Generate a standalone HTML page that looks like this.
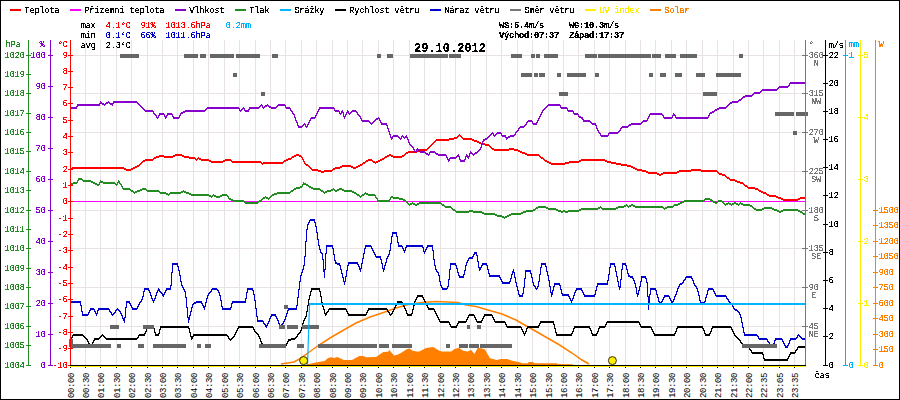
<!DOCTYPE html><html><head><meta charset="utf-8"><style>
html,body{margin:0;padding:0;background:#fff;width:900px;height:400px;overflow:hidden}
svg{display:block}
text{font-family:"Liberation Mono",monospace;font-size:9px;letter-spacing:-0.4px;filter:url(#bin)}
.rot{filter:none}
.lg{font-weight:normal}
.b{font-weight:bold}
</style></head><body>
<svg width="900" height="400" viewBox="0 0 900 400">
<defs><filter id="bin" x="-10%" y="-50%" width="120%" height="200%"><feComponentTransfer><feFuncA type="discrete" tableValues="0 0 0 1 1 1 1 1"/></feComponentTransfer></filter><filter id="bin2" x="-10%" y="-50%" width="120%" height="200%"><feComponentTransfer><feFuncA type="discrete" tableValues="0 0 1 1 1 1 1 1"/></feComponentTransfer></filter></defs>
<rect x="0" y="0" width="900" height="400" fill="#fff"/>
<path d="M85.5 40V365M100.5 40V365M116.5 40V365M131.5 40V365M147.5 40V365M162.5 40V365M177.5 40V365M193.5 40V365M208.5 40V365M224.5 40V365M239.5 40V365M255.5 40V365M270.5 40V365M285.5 40V365M301.5 40V365M316.5 40V365M332.5 40V365M347.5 40V365M362.5 40V365M378.5 40V365M393.5 40V365M409.5 40V365M424.5 40V365M440.5 40V365M455.5 40V365M470.5 40V365M486.5 40V365M501.5 40V365M517.5 40V365M532.5 40V365M548.5 40V365M563.5 40V365M578.5 40V365M594.5 40V365M609.5 40V365M625.5 40V365M640.5 40V365M655.5 40V365M671.5 40V365M686.5 40V365M702.5 40V365M717.5 40V365M733.5 40V365M748.5 40V365M763.5 40V365M779.5 40V365M794.5 40V365M70 55.5H805M70 93.5H805M70 132.5H805M70 171.5H805M70 210.5H805M70 248.5H805M70 287.5H805M70 326.5H805" stroke="#e8e2e2" stroke-width="1" fill="none" shape-rendering="crispEdges"/>
<polygon points="305,365 306.7,364.4 314.7,362.7 320,361.7 324.7,361 328,358 331.3,357.3 334,358 337.3,357 344,360 352,360 359.3,356 363.3,356 366,357.3 376,357 379.3,354.7 383.3,352 388,351.7 389.3,350 394,355.6 397.3,354.7 401.3,352.7 406.7,349.3 409.3,348.4 412.7,350.7 416.7,351.6 419.3,351.6 426,348 433.3,347 439.3,350.7 442,351.6 451.3,351.6 454,349.3 458.7,347.7 463.3,350.7 467.3,351.6 471.3,350 474.3,354 478,347.6 484.7,349.3 490,358.3 496.7,360 500.7,359 507.3,359 511.3,360.4 518,362 520.7,362.4 521.3,363.3 528,363.3 528.7,362 533.3,362 534,363.3 556.7,363.3 557.3,364 572.7,364.3 573,365" fill="#ff8000" stroke="none"/>
<polyline points="281,364 294,362 300,358.6 308,353 319,345 330,338 342,331 356,323 370,317 382,313 396,308 408,304.6 422,302.6 436,301.6 458,302.6 466,305 476,306.6 488,310 502,314 516,320 530,328 544,336 558,344 572,353 582,360 589,364" fill="none" stroke="#ff8000" stroke-width="1.5"/>
<path d="M70 201.5H805" stroke="#ff00ff" stroke-width="1" shape-rendering="crispEdges"/>
<path d="M78 178h4v1h-4zM78 179h5v1h-5zM77 180h2v1h-2zM82 180h9v1h-9zM100 180h1v1h-1zM118 180h1v1h-1zM77 181h1v1h-1zM83 181h10v1h-10zM100 181h3v1h-3zM118 181h2v1h-2zM73 182h5v1h-5zM91 182h4v1h-4zM99 182h16v1h-16zM117 182h3v1h-3zM303 182h1v1h-1zM71 183h6v1h-6zM93 183h4v1h-4zM99 183h1v1h-1zM103 183h13v1h-13zM117 183h1v1h-1zM119 183h2v1h-2zM303 183h3v1h-3zM70 184h3v1h-3zM95 184h5v1h-5zM115 184h3v1h-3zM120 184h2v1h-2zM302 184h6v1h-6zM70 185h1v1h-1zM97 185h2v1h-2zM116 185h1v1h-1zM121 185h1v1h-1zM302 185h1v1h-1zM306 185h3v1h-3zM121 186h2v1h-2zM300 186h3v1h-3zM308 186h3v1h-3zM122 187h1v1h-1zM296 187h6v1h-6zM309 187h4v1h-4zM122 188h8v1h-8zM142 188h4v1h-4zM294 188h6v1h-6zM311 188h9v1h-9zM333 188h1v1h-1zM339 188h3v1h-3zM123 189h8v1h-8zM140 189h7v1h-7zM293 189h3v1h-3zM313 189h8v1h-8zM331 189h4v1h-4zM337 189h7v1h-7zM130 190h3v1h-3zM137 190h5v1h-5zM146 190h13v1h-13zM183 190h1v1h-1zM291 190h3v1h-3zM320 190h3v1h-3zM327 190h6v1h-6zM334 190h5v1h-5zM342 190h10v1h-10zM131 191h3v1h-3zM135 191h5v1h-5zM147 191h13v1h-13zM181 191h5v1h-5zM290 191h3v1h-3zM321 191h3v1h-3zM325 191h6v1h-6zM335 191h2v1h-2zM344 191h10v1h-10zM133 192h4v1h-4zM159 192h7v1h-7zM170 192h13v1h-13zM184 192h5v1h-5zM277 192h14v1h-14zM323 192h4v1h-4zM352 192h4v1h-4zM365 192h1v1h-1zM134 193h1v1h-1zM160 193h8v1h-8zM169 193h12v1h-12zM186 193h5v1h-5zM274 193h16v1h-16zM324 193h1v1h-1zM354 193h3v1h-3zM364 193h4v1h-4zM166 194h4v1h-4zM189 194h20v1h-20zM213 194h1v1h-1zM222 194h5v1h-5zM272 194h5v1h-5zM356 194h3v1h-3zM362 194h3v1h-3zM366 194h9v1h-9zM168 195h1v1h-1zM191 195h20v1h-20zM212 195h4v1h-4zM220 195h8v1h-8zM271 195h3v1h-3zM357 195h3v1h-3zM361 195h3v1h-3zM368 195h8v1h-8zM209 196h4v1h-4zM214 196h8v1h-8zM227 196h2v1h-2zM265 196h1v1h-1zM270 196h2v1h-2zM359 196h3v1h-3zM375 196h1v1h-1zM391 196h2v1h-2zM211 197h1v1h-1zM216 197h4v1h-4zM228 197h1v1h-1zM263 197h5v1h-5zM269 197h2v1h-2zM360 197h1v1h-1zM375 197h2v1h-2zM390 197h9v1h-9zM228 198h3v1h-3zM262 198h3v1h-3zM266 198h4v1h-4zM376 198h2v1h-2zM390 198h1v1h-1zM393 198h10v1h-10zM705 198h5v1h-5zM229 199h4v1h-4zM261 199h2v1h-2zM268 199h1v1h-1zM377 199h1v1h-1zM389 199h2v1h-2zM399 199h6v1h-6zM704 199h8v1h-8zM231 200h13v1h-13zM259 200h3v1h-3zM377 200h13v1h-13zM403 200h3v1h-3zM684 200h21v1h-21zM710 200h3v1h-3zM718 200h4v1h-4zM233 201h12v1h-12zM258 201h3v1h-3zM378 201h11v1h-11zM405 201h2v1h-2zM682 201h22v1h-22zM712 201h3v1h-3zM717 201h6v1h-6zM244 202h15v1h-15zM406 202h2v1h-2zM412 202h1v1h-1zM419 202h22v1h-22zM680 202h4v1h-4zM713 202h5v1h-5zM722 202h2v1h-2zM728 202h1v1h-1zM734 202h2v1h-2zM740 202h1v1h-1zM245 203h13v1h-13zM407 203h2v1h-2zM410 203h5v1h-5zM417 203h25v1h-25zM678 203h4v1h-4zM715 203h2v1h-2zM723 203h2v1h-2zM726 203h5v1h-5zM732 203h6v1h-6zM739 203h4v1h-4zM408 204h4v1h-4zM413 204h6v1h-6zM441 204h3v1h-3zM626 204h1v1h-1zM631 204h2v1h-2zM674 204h6v1h-6zM724 204h4v1h-4zM729 204h5v1h-5zM736 204h4v1h-4zM741 204h9v1h-9zM409 205h1v1h-1zM415 205h2v1h-2zM442 205h3v1h-3zM624 205h4v1h-4zM629 205h6v1h-6zM673 205h5v1h-5zM725 205h1v1h-1zM731 205h1v1h-1zM738 205h1v1h-1zM743 205h9v1h-9zM444 206h7v1h-7zM538 206h8v1h-8zM600 206h1v1h-1zM618 206h8v1h-8zM627 206h4v1h-4zM633 206h30v1h-30zM667 206h7v1h-7zM750 206h3v1h-3zM445 207h7v1h-7zM536 207h12v1h-12zM598 207h4v1h-4zM616 207h8v1h-8zM628 207h1v1h-1zM635 207h29v1h-29zM665 207h8v1h-8zM752 207h2v1h-2zM764 207h8v1h-8zM451 208h2v1h-2zM535 208h3v1h-3zM546 208h10v1h-10zM581 208h19v1h-19zM601 208h17v1h-17zM663 208h4v1h-4zM753 208h3v1h-3zM762 208h12v1h-12zM452 209h3v1h-3zM533 209h3v1h-3zM548 209h10v1h-10zM579 209h19v1h-19zM602 209h14v1h-14zM664 209h1v1h-1zM754 209h10v1h-10zM772 209h5v1h-5zM783 209h15v1h-15zM453 210h3v1h-3zM469 210h4v1h-4zM526 210h9v1h-9zM556 210h5v1h-5zM563 210h2v1h-2zM568 210h13v1h-13zM756 210h6v1h-6zM774 210h5v1h-5zM781 210h19v1h-19zM455 211h27v1h-27zM523 211h10v1h-10zM558 211h21v1h-21zM777 211h6v1h-6zM798 211h4v1h-4zM456 212h13v1h-13zM473 212h11v1h-11zM521 212h5v1h-5zM561 212h2v1h-2zM565 212h3v1h-3zM779 212h2v1h-2zM800 212h3v1h-3zM482 213h13v1h-13zM511 213h12v1h-12zM802 213h3v1h-3zM484 214h13v1h-13zM509 214h12v1h-12zM803 214h3v1h-3zM495 215h7v1h-7zM507 215h4v1h-4zM805 215h1v1h-1zM497 216h7v1h-7zM505 216h4v1h-4zM502 217h5v1h-5zM504 218h1v1h-1z" fill="#228b22" shape-rendering="crispEdges" />
<path d="M459 134h1v1h-1zM458 135h3v1h-3zM457 136h2v1h-2zM460 136h2v1h-2zM454 137h4v1h-4zM461 137h2v1h-2zM449 138h8v1h-8zM462 138h10v1h-10zM436 139h18v1h-18zM463 139h11v1h-11zM435 140h14v1h-14zM472 140h5v1h-5zM434 141h2v1h-2zM474 141h5v1h-5zM433 142h2v1h-2zM477 142h4v1h-4zM432 143h2v1h-2zM479 143h6v1h-6zM431 144h2v1h-2zM481 144h8v1h-8zM430 145h2v1h-2zM485 145h5v1h-5zM429 146h2v1h-2zM489 146h2v1h-2zM428 147h2v1h-2zM490 147h2v1h-2zM427 148h2v1h-2zM491 148h3v1h-3zM509 148h5v1h-5zM419 149h9v1h-9zM492 149h26v1h-26zM417 150h10v1h-10zM494 150h15v1h-15zM514 150h6v1h-6zM408 151h11v1h-11zM518 151h4v1h-4zM406 152h11v1h-11zM520 152h5v1h-5zM405 153h3v1h-3zM522 153h5v1h-5zM175 154h7v1h-7zM296 154h3v1h-3zM389 154h2v1h-2zM404 154h2v1h-2zM525 154h14v1h-14zM159 155h5v1h-5zM173 155h11v1h-11zM294 155h7v1h-7zM387 155h6v1h-6zM402 155h3v1h-3zM527 155h13v1h-13zM156 156h19v1h-19zM182 156h7v1h-7zM292 156h4v1h-4zM299 156h3v1h-3zM385 156h4v1h-4zM391 156h13v1h-13zM539 156h2v1h-2zM154 157h5v1h-5zM164 157h9v1h-9zM184 157h11v1h-11zM198 157h1v1h-1zM291 157h3v1h-3zM301 157h2v1h-2zM384 157h3v1h-3zM393 157h9v1h-9zM540 157h3v1h-3zM153 158h3v1h-3zM189 158h7v1h-7zM197 158h4v1h-4zM288 158h4v1h-4zM302 158h1v1h-1zM382 158h3v1h-3zM541 158h3v1h-3zM145 159h9v1h-9zM195 159h3v1h-3zM199 159h10v1h-10zM225 159h6v1h-6zM286 159h5v1h-5zM302 159h2v1h-2zM368 159h4v1h-4zM380 159h4v1h-4zM543 159h2v1h-2zM581 159h24v1h-24zM143 160h10v1h-10zM196 160h1v1h-1zM201 160h10v1h-10zM223 160h9v1h-9zM284 160h4v1h-4zM303 160h1v1h-1zM366 160h7v1h-7zM378 160h4v1h-4zM544 160h3v1h-3zM579 160h28v1h-28zM142 161h3v1h-3zM209 161h16v1h-16zM231 161h30v1h-30zM283 161h3v1h-3zM303 161h2v1h-2zM365 161h3v1h-3zM372 161h3v1h-3zM376 161h4v1h-4zM545 161h4v1h-4zM569 161h12v1h-12zM605 161h6v1h-6zM141 162h2v1h-2zM211 162h12v1h-12zM232 162h30v1h-30zM263 162h21v1h-21zM304 162h1v1h-1zM363 162h3v1h-3zM373 162h5v1h-5zM547 162h4v1h-4zM565 162h14v1h-14zM607 162h9v1h-9zM140 163h2v1h-2zM261 163h22v1h-22zM304 163h2v1h-2zM362 163h3v1h-3zM375 163h1v1h-1zM549 163h20v1h-20zM611 163h10v1h-10zM139 164h2v1h-2zM262 164h1v1h-1zM305 164h3v1h-3zM360 164h3v1h-3zM551 164h14v1h-14zM616 164h11v1h-11zM137 165h3v1h-3zM306 165h3v1h-3zM342 165h9v1h-9zM358 165h4v1h-4zM621 165h10v1h-10zM135 166h4v1h-4zM308 166h2v1h-2zM340 166h13v1h-13zM356 166h4v1h-4zM627 166h6v1h-6zM72 167h52v1h-52zM133 167h4v1h-4zM309 167h2v1h-2zM335 167h7v1h-7zM351 167h7v1h-7zM631 167h4v1h-4zM70 168h56v1h-56zM131 168h4v1h-4zM310 168h2v1h-2zM333 168h7v1h-7zM353 168h3v1h-3zM633 168h4v1h-4zM70 169h2v1h-2zM124 169h9v1h-9zM311 169h7v1h-7zM332 169h3v1h-3zM635 169h7v1h-7zM691 169h10v1h-10zM126 170h5v1h-5zM312 170h9v1h-9zM324 170h9v1h-9zM637 170h9v1h-9zM679 170h38v1h-38zM318 171h14v1h-14zM642 171h6v1h-6zM677 171h14v1h-14zM701 171h17v1h-17zM321 172h3v1h-3zM646 172h11v1h-11zM663 172h16v1h-16zM717 172h2v1h-2zM648 173h11v1h-11zM661 173h16v1h-16zM718 173h4v1h-4zM657 174h6v1h-6zM719 174h6v1h-6zM659 175h2v1h-2zM722 175h4v1h-4zM725 176h2v1h-2zM726 177h3v1h-3zM727 178h3v1h-3zM729 179h6v1h-6zM730 180h7v1h-7zM735 181h5v1h-5zM737 182h6v1h-6zM740 183h4v1h-4zM743 184h2v1h-2zM744 185h3v1h-3zM745 186h3v1h-3zM747 187h8v1h-8zM748 188h10v1h-10zM755 189h4v1h-4zM758 190h3v1h-3zM759 191h4v1h-4zM761 192h5v1h-5zM763 193h4v1h-4zM766 194h3v1h-3zM767 195h9v1h-9zM769 196h9v1h-9zM776 197h5v1h-5zM800 197h6v1h-6zM778 198h5v1h-5zM798 198h8v1h-8zM781 199h19v1h-19zM783 200h15v1h-15z" fill="#ff0000" shape-rendering="crispEdges" />
<path d="M790 82h16v1h-16zM789 83h17v1h-17zM789 84h1v1h-1zM788 85h2v1h-2zM779 86h10v1h-10zM778 87h10v1h-10zM777 88h2v1h-2zM762 89h16v1h-16zM761 90h16v1h-16zM760 91h2v1h-2zM754 92h7v1h-7zM753 93h7v1h-7zM752 94h2v1h-2zM745 95h8v1h-8zM743 96h9v1h-9zM742 97h3v1h-3zM741 98h2v1h-2zM739 99h3v1h-3zM738 100h3v1h-3zM100 101h1v1h-1zM108 101h1v1h-1zM113 101h24v1h-24zM732 101h7v1h-7zM100 102h2v1h-2zM106 102h4v1h-4zM113 102h25v1h-25zM730 102h8v1h-8zM99 103h5v1h-5zM105 103h3v1h-3zM109 103h5v1h-5zM137 103h2v1h-2zM729 103h3v1h-3zM77 104h23v1h-23zM102 104h4v1h-4zM110 104h3v1h-3zM138 104h2v1h-2zM261 104h1v1h-1zM267 104h1v1h-1zM278 104h7v1h-7zM548 104h12v1h-12zM728 104h2v1h-2zM77 105h23v1h-23zM104 105h1v1h-1zM112 105h1v1h-1zM139 105h2v1h-2zM260 105h3v1h-3zM265 105h4v1h-4zM277 105h9v1h-9zM547 105h14v1h-14zM727 105h2v1h-2zM76 106h2v1h-2zM140 106h2v1h-2zM259 106h2v1h-2zM262 106h1v1h-1zM264 106h3v1h-3zM268 106h3v1h-3zM276 106h2v1h-2zM285 106h1v1h-1zM546 106h2v1h-2zM560 106h1v1h-1zM726 106h2v1h-2zM70 107h7v1h-7zM141 107h2v1h-2zM207 107h32v1h-32zM243 107h1v1h-1zM249 107h11v1h-11zM262 107h3v1h-3zM269 107h8v1h-8zM285 107h5v1h-5zM319 107h15v1h-15zM545 107h2v1h-2zM560 107h7v1h-7zM719 107h8v1h-8zM70 108h7v1h-7zM142 108h2v1h-2zM206 108h34v1h-34zM242 108h3v1h-3zM249 108h10v1h-10zM263 108h1v1h-1zM271 108h5v1h-5zM286 108h5v1h-5zM319 108h16v1h-16zM544 108h2v1h-2zM561 108h7v1h-7zM717 108h9v1h-9zM143 109h2v1h-2zM205 109h2v1h-2zM239 109h1v1h-1zM241 109h2v1h-2zM244 109h1v1h-1zM248 109h2v1h-2zM290 109h1v1h-1zM318 109h2v1h-2zM334 109h1v1h-1zM543 109h2v1h-2zM567 109h1v1h-1zM715 109h4v1h-4zM144 110h9v1h-9zM185 110h21v1h-21zM239 110h3v1h-3zM244 110h5v1h-5zM290 110h2v1h-2zM318 110h1v1h-1zM334 110h5v1h-5zM342 110h1v1h-1zM347 110h1v1h-1zM352 110h4v1h-4zM542 110h2v1h-2zM567 110h6v1h-6zM714 110h3v1h-3zM145 111h9v1h-9zM183 111h22v1h-22zM240 111h1v1h-1zM245 111h4v1h-4zM291 111h2v1h-2zM317 111h2v1h-2zM335 111h5v1h-5zM341 111h2v1h-2zM347 111h2v1h-2zM351 111h6v1h-6zM542 111h1v1h-1zM568 111h6v1h-6zM712 111h3v1h-3zM153 112h1v1h-1zM181 112h4v1h-4zM292 112h1v1h-1zM317 112h1v1h-1zM339 112h1v1h-1zM341 112h3v1h-3zM346 112h3v1h-3zM350 112h2v1h-2zM356 112h2v1h-2zM541 112h2v1h-2zM573 112h1v1h-1zM710 112h4v1h-4zM153 113h2v1h-2zM159 113h5v1h-5zM167 113h5v1h-5zM180 113h3v1h-3zM292 113h2v1h-2zM316 113h2v1h-2zM339 113h3v1h-3zM343 113h1v1h-1zM346 113h1v1h-1zM348 113h3v1h-3zM357 113h1v1h-1zM541 113h1v1h-1zM573 113h5v1h-5zM650 113h12v1h-12zM673 113h1v1h-1zM709 113h3v1h-3zM154 114h2v1h-2zM159 114h6v1h-6zM167 114h6v1h-6zM180 114h1v1h-1zM293 114h2v1h-2zM316 114h1v1h-1zM340 114h1v1h-1zM343 114h1v1h-1zM345 114h2v1h-2zM349 114h1v1h-1zM357 114h2v1h-2zM540 114h2v1h-2zM574 114h5v1h-5zM649 114h14v1h-14zM673 114h2v1h-2zM709 114h1v1h-1zM155 115h2v1h-2zM158 115h2v1h-2zM164 115h1v1h-1zM166 115h2v1h-2zM172 115h1v1h-1zM179 115h2v1h-2zM294 115h1v1h-1zM315 115h2v1h-2zM343 115h1v1h-1zM345 115h1v1h-1zM358 115h2v1h-2zM540 115h1v1h-1zM578 115h1v1h-1zM649 115h1v1h-1zM662 115h2v1h-2zM672 115h4v1h-4zM708 115h2v1h-2zM156 116h1v1h-1zM158 116h1v1h-1zM164 116h3v1h-3zM172 116h2v1h-2zM179 116h1v1h-1zM294 116h1v1h-1zM315 116h1v1h-1zM343 116h3v1h-3zM359 116h2v1h-2zM539 116h2v1h-2zM578 116h3v1h-3zM648 116h2v1h-2zM663 116h1v1h-1zM672 116h1v1h-1zM675 116h1v1h-1zM708 116h1v1h-1zM156 117h3v1h-3zM165 117h2v1h-2zM173 117h7v1h-7zM294 117h2v1h-2zM311 117h5v1h-5zM344 117h1v1h-1zM360 117h1v1h-1zM378 117h1v1h-1zM539 117h1v1h-1zM579 117h4v1h-4zM648 117h1v1h-1zM663 117h10v1h-10zM675 117h34v1h-34zM157 118h1v1h-1zM165 118h1v1h-1zM173 118h6v1h-6zM295 118h1v1h-1zM310 118h5v1h-5zM344 118h1v1h-1zM360 118h2v1h-2zM376 118h4v1h-4zM538 118h2v1h-2zM581 118h2v1h-2zM647 118h2v1h-2zM664 118h8v1h-8zM676 118h32v1h-32zM295 119h1v1h-1zM310 119h1v1h-1zM361 119h1v1h-1zM375 119h3v1h-3zM379 119h1v1h-1zM538 119h1v1h-1zM582 119h2v1h-2zM647 119h1v1h-1zM295 120h2v1h-2zM309 120h2v1h-2zM361 120h8v1h-8zM374 120h2v1h-2zM379 120h2v1h-2zM528 120h4v1h-4zM537 120h2v1h-2zM583 120h7v1h-7zM643 120h5v1h-5zM296 121h1v1h-1zM309 121h1v1h-1zM362 121h8v1h-8zM373 121h2v1h-2zM380 121h1v1h-1zM527 121h6v1h-6zM537 121h1v1h-1zM583 121h8v1h-8zM642 121h5v1h-5zM296 122h2v1h-2zM308 122h2v1h-2zM369 122h2v1h-2zM372 122h2v1h-2zM380 122h2v1h-2zM526 122h2v1h-2zM532 122h1v1h-1zM536 122h2v1h-2zM590 122h2v1h-2zM641 122h2v1h-2zM297 123h1v1h-1zM304 123h1v1h-1zM308 123h1v1h-1zM370 123h3v1h-3zM381 123h6v1h-6zM526 123h1v1h-1zM532 123h5v1h-5zM591 123h5v1h-5zM631 123h11v1h-11zM297 124h1v1h-1zM303 124h3v1h-3zM307 124h2v1h-2zM371 124h1v1h-1zM381 124h6v1h-6zM525 124h2v1h-2zM533 124h4v1h-4zM592 124h4v1h-4zM629 124h12v1h-12zM297 125h2v1h-2zM302 125h2v1h-2zM305 125h1v1h-1zM307 125h1v1h-1zM386 125h2v1h-2zM524 125h2v1h-2zM595 125h2v1h-2zM628 125h3v1h-3zM298 126h5v1h-5zM305 126h3v1h-3zM387 126h1v1h-1zM520 126h5v1h-5zM596 126h1v1h-1zM622 126h7v1h-7zM298 127h4v1h-4zM306 127h1v1h-1zM387 127h1v1h-1zM519 127h5v1h-5zM596 127h1v1h-1zM621 127h7v1h-7zM387 128h2v1h-2zM518 128h2v1h-2zM596 128h2v1h-2zM620 128h2v1h-2zM388 129h1v1h-1zM518 129h1v1h-1zM597 129h1v1h-1zM620 129h1v1h-1zM388 130h1v1h-1zM517 130h2v1h-2zM597 130h2v1h-2zM619 130h2v1h-2zM388 131h2v1h-2zM516 131h2v1h-2zM598 131h1v1h-1zM618 131h2v1h-2zM389 132h1v1h-1zM492 132h1v1h-1zM497 132h4v1h-4zM515 132h2v1h-2zM598 132h2v1h-2zM609 132h10v1h-10zM389 133h1v1h-1zM491 133h3v1h-3zM496 133h6v1h-6zM515 133h1v1h-1zM599 133h2v1h-2zM608 133h10v1h-10zM389 134h2v1h-2zM490 134h2v1h-2zM493 134h1v1h-1zM495 134h2v1h-2zM501 134h1v1h-1zM514 134h2v1h-2zM600 134h1v1h-1zM608 134h1v1h-1zM390 135h1v1h-1zM393 135h5v1h-5zM402 135h1v1h-1zM406 135h1v1h-1zM489 135h2v1h-2zM493 135h3v1h-3zM501 135h5v1h-5zM510 135h5v1h-5zM600 135h9v1h-9zM390 136h1v1h-1zM392 136h7v1h-7zM401 136h3v1h-3zM405 136h2v1h-2zM488 136h2v1h-2zM494 136h1v1h-1zM502 136h4v1h-4zM508 136h6v1h-6zM601 136h7v1h-7zM390 137h3v1h-3zM398 137h2v1h-2zM401 137h1v1h-1zM403 137h5v1h-5zM487 137h2v1h-2zM505 137h5v1h-5zM391 138h2v1h-2zM399 138h3v1h-3zM404 138h1v1h-1zM407 138h1v1h-1zM485 138h3v1h-3zM506 138h2v1h-2zM391 139h1v1h-1zM400 139h1v1h-1zM407 139h2v1h-2zM483 139h4v1h-4zM506 139h1v1h-1zM408 140h1v1h-1zM483 140h2v1h-2zM408 141h1v1h-1zM482 141h2v1h-2zM408 142h2v1h-2zM482 142h1v1h-1zM409 143h1v1h-1zM482 143h1v1h-1zM409 144h2v1h-2zM481 144h2v1h-2zM410 145h2v1h-2zM481 145h1v1h-1zM411 146h2v1h-2zM481 146h1v1h-1zM412 147h2v1h-2zM480 147h2v1h-2zM413 148h1v1h-1zM417 148h1v1h-1zM480 148h1v1h-1zM413 149h2v1h-2zM416 149h3v1h-3zM479 149h2v1h-2zM414 150h1v1h-1zM416 150h1v1h-1zM418 150h2v1h-2zM478 150h2v1h-2zM414 151h3v1h-3zM419 151h6v1h-6zM430 151h5v1h-5zM470 151h1v1h-1zM477 151h2v1h-2zM415 152h1v1h-1zM420 152h6v1h-6zM429 152h7v1h-7zM470 152h2v1h-2zM475 152h3v1h-3zM425 153h3v1h-3zM429 153h1v1h-1zM435 153h3v1h-3zM469 153h4v1h-4zM474 153h3v1h-3zM426 154h4v1h-4zM436 154h10v1h-10zM458 154h1v1h-1zM466 154h1v1h-1zM469 154h1v1h-1zM472 154h3v1h-3zM428 155h1v1h-1zM438 155h9v1h-9zM457 155h2v1h-2zM466 155h2v1h-2zM469 155h1v1h-1zM473 155h1v1h-1zM446 156h1v1h-1zM456 156h4v1h-4zM465 156h5v1h-5zM446 157h2v1h-2zM450 157h7v1h-7zM459 157h1v1h-1zM465 157h1v1h-1zM467 157h2v1h-2zM447 158h1v1h-1zM449 158h7v1h-7zM459 158h1v1h-1zM465 158h1v1h-1zM468 158h1v1h-1zM447 159h3v1h-3zM459 159h2v1h-2zM464 159h2v1h-2zM448 160h2v1h-2zM460 160h5v1h-5zM448 161h1v1h-1zM460 161h5v1h-5z" fill="#8800cc" shape-rendering="crispEdges" />
<path d="M311 288h9v1h-9zM311 289h9v1h-9zM311 290h1v1h-1zM319 290h1v1h-1zM310 291h2v1h-2zM319 291h2v1h-2zM310 292h1v1h-1zM320 292h1v1h-1zM310 293h1v1h-1zM320 293h1v1h-1zM310 294h1v1h-1zM320 294h1v1h-1zM309 295h2v1h-2zM320 295h1v1h-1zM417 295h6v1h-6zM309 296h1v1h-1zM320 296h2v1h-2zM417 296h6v1h-6zM309 297h1v1h-1zM321 297h1v1h-1zM416 297h2v1h-2zM422 297h2v1h-2zM309 298h1v1h-1zM321 298h1v1h-1zM416 298h1v1h-1zM423 298h1v1h-1zM308 299h2v1h-2zM321 299h1v1h-1zM415 299h2v1h-2zM423 299h2v1h-2zM308 300h1v1h-1zM321 300h1v1h-1zM415 300h1v1h-1zM424 300h1v1h-1zM308 301h1v1h-1zM321 301h1v1h-1zM397 301h5v1h-5zM414 301h2v1h-2zM424 301h2v1h-2zM308 302h1v1h-1zM321 302h2v1h-2zM397 302h6v1h-6zM414 302h1v1h-1zM425 302h1v1h-1zM308 303h1v1h-1zM322 303h1v1h-1zM396 303h2v1h-2zM402 303h1v1h-1zM414 303h1v1h-1zM425 303h2v1h-2zM308 304h1v1h-1zM322 304h1v1h-1zM396 304h1v1h-1zM402 304h2v1h-2zM414 304h1v1h-1zM426 304h1v1h-1zM307 305h2v1h-2zM322 305h1v1h-1zM395 305h2v1h-2zM403 305h1v1h-1zM413 305h2v1h-2zM426 305h2v1h-2zM307 306h1v1h-1zM322 306h2v1h-2zM395 306h1v1h-1zM403 306h2v1h-2zM413 306h1v1h-1zM427 306h1v1h-1zM307 307h1v1h-1zM323 307h1v1h-1zM394 307h2v1h-2zM404 307h1v1h-1zM413 307h1v1h-1zM427 307h2v1h-2zM307 308h1v1h-1zM323 308h1v1h-1zM329 308h17v1h-17zM368 308h19v1h-19zM394 308h1v1h-1zM404 308h2v1h-2zM413 308h1v1h-1zM428 308h6v1h-6zM307 309h1v1h-1zM323 309h2v1h-2zM328 309h19v1h-19zM368 309h20v1h-20zM393 309h2v1h-2zM405 309h1v1h-1zM412 309h2v1h-2zM428 309h7v1h-7zM307 310h1v1h-1zM324 310h1v1h-1zM328 310h1v1h-1zM346 310h1v1h-1zM367 310h2v1h-2zM387 310h1v1h-1zM393 310h1v1h-1zM405 310h2v1h-2zM412 310h1v1h-1zM434 310h1v1h-1zM306 311h2v1h-2zM324 311h1v1h-1zM327 311h2v1h-2zM346 311h2v1h-2zM367 311h1v1h-1zM387 311h2v1h-2zM392 311h2v1h-2zM406 311h1v1h-1zM412 311h1v1h-1zM434 311h2v1h-2zM306 312h1v1h-1zM324 312h1v1h-1zM326 312h2v1h-2zM347 312h1v1h-1zM366 312h2v1h-2zM388 312h2v1h-2zM392 312h1v1h-1zM406 312h1v1h-1zM412 312h1v1h-1zM435 312h1v1h-1zM306 313h1v1h-1zM324 313h3v1h-3zM347 313h2v1h-2zM366 313h1v1h-1zM389 313h1v1h-1zM391 313h2v1h-2zM406 313h2v1h-2zM411 313h2v1h-2zM435 313h2v1h-2zM306 314h1v1h-1zM325 314h2v1h-2zM348 314h19v1h-19zM389 314h3v1h-3zM407 314h5v1h-5zM436 314h1v1h-1zM469 314h5v1h-5zM484 314h8v1h-8zM306 315h1v1h-1zM325 315h1v1h-1zM348 315h18v1h-18zM390 315h1v1h-1zM407 315h5v1h-5zM436 315h2v1h-2zM468 315h7v1h-7zM484 315h9v1h-9zM305 316h2v1h-2zM437 316h1v1h-1zM468 316h1v1h-1zM474 316h1v1h-1zM483 316h2v1h-2zM492 316h1v1h-1zM305 317h1v1h-1zM437 317h2v1h-2zM467 317h2v1h-2zM474 317h2v1h-2zM483 317h1v1h-1zM492 317h2v1h-2zM304 318h2v1h-2zM438 318h1v1h-1zM467 318h1v1h-1zM475 318h1v1h-1zM482 318h2v1h-2zM493 318h1v1h-1zM304 319h1v1h-1zM438 319h2v1h-2zM466 319h2v1h-2zM475 319h2v1h-2zM482 319h1v1h-1zM493 319h2v1h-2zM303 320h2v1h-2zM439 320h1v1h-1zM466 320h1v1h-1zM476 320h1v1h-1zM481 320h2v1h-2zM494 320h1v1h-1zM303 321h1v1h-1zM439 321h10v1h-10zM458 321h9v1h-9zM476 321h6v1h-6zM494 321h11v1h-11zM540 321h14v1h-14zM607 321h32v1h-32zM303 322h1v1h-1zM440 322h10v1h-10zM458 322h8v1h-8zM477 322h5v1h-5zM495 322h11v1h-11zM540 322h14v1h-14zM606 322h34v1h-34zM302 323h2v1h-2zM449 323h1v1h-1zM457 323h2v1h-2zM505 323h1v1h-1zM539 323h2v1h-2zM553 323h1v1h-1zM606 323h1v1h-1zM639 323h1v1h-1zM302 324h1v1h-1zM449 324h2v1h-2zM457 324h1v1h-1zM505 324h2v1h-2zM539 324h1v1h-1zM553 324h2v1h-2zM605 324h2v1h-2zM639 324h2v1h-2zM302 325h1v1h-1zM450 325h1v1h-1zM456 325h2v1h-2zM506 325h1v1h-1zM538 325h2v1h-2zM554 325h1v1h-1zM605 325h1v1h-1zM640 325h1v1h-1zM147 326h7v1h-7zM160 326h29v1h-29zM238 326h15v1h-15zM302 326h1v1h-1zM450 326h7v1h-7zM506 326h15v1h-15zM527 326h12v1h-12zM554 326h1v1h-1zM574 326h16v1h-16zM599 326h7v1h-7zM640 326h11v1h-11zM677 326h26v1h-26zM712 326h19v1h-19zM147 327h7v1h-7zM160 327h29v1h-29zM238 327h16v1h-16zM301 327h2v1h-2zM451 327h6v1h-6zM507 327h15v1h-15zM527 327h12v1h-12zM554 327h1v1h-1zM574 327h16v1h-16zM599 327h6v1h-6zM641 327h11v1h-11zM677 327h26v1h-26zM712 327h20v1h-20zM146 328h2v1h-2zM153 328h2v1h-2zM160 328h1v1h-1zM188 328h2v1h-2zM237 328h2v1h-2zM253 328h1v1h-1zM301 328h1v1h-1zM521 328h1v1h-1zM526 328h2v1h-2zM554 328h2v1h-2zM573 328h2v1h-2zM589 328h2v1h-2zM598 328h2v1h-2zM651 328h1v1h-1zM676 328h2v1h-2zM702 328h2v1h-2zM711 328h2v1h-2zM731 328h1v1h-1zM146 329h1v1h-1zM154 329h1v1h-1zM159 329h2v1h-2zM189 329h1v1h-1zM237 329h1v1h-1zM253 329h2v1h-2zM301 329h1v1h-1zM521 329h2v1h-2zM526 329h1v1h-1zM555 329h1v1h-1zM573 329h1v1h-1zM590 329h1v1h-1zM598 329h1v1h-1zM651 329h2v1h-2zM676 329h1v1h-1zM703 329h1v1h-1zM711 329h1v1h-1zM731 329h2v1h-2zM146 330h1v1h-1zM154 330h1v1h-1zM159 330h1v1h-1zM189 330h1v1h-1zM236 330h2v1h-2zM254 330h1v1h-1zM300 330h2v1h-2zM522 330h1v1h-1zM526 330h1v1h-1zM555 330h1v1h-1zM573 330h1v1h-1zM590 330h2v1h-2zM598 330h1v1h-1zM652 330h1v1h-1zM676 330h1v1h-1zM703 330h2v1h-2zM711 330h1v1h-1zM732 330h1v1h-1zM145 331h2v1h-2zM154 331h1v1h-1zM159 331h1v1h-1zM189 331h1v1h-1zM236 331h1v1h-1zM254 331h2v1h-2zM300 331h1v1h-1zM522 331h2v1h-2zM525 331h2v1h-2zM555 331h1v1h-1zM572 331h2v1h-2zM591 331h1v1h-1zM597 331h2v1h-2zM652 331h2v1h-2zM675 331h2v1h-2zM704 331h1v1h-1zM710 331h2v1h-2zM732 331h2v1h-2zM145 332h1v1h-1zM154 332h2v1h-2zM159 332h1v1h-1zM189 332h2v1h-2zM235 332h2v1h-2zM255 332h2v1h-2zM299 332h2v1h-2zM523 332h1v1h-1zM525 332h1v1h-1zM555 332h2v1h-2zM572 332h1v1h-1zM591 332h1v1h-1zM597 332h1v1h-1zM653 332h1v1h-1zM675 332h1v1h-1zM704 332h1v1h-1zM710 332h1v1h-1zM733 332h1v1h-1zM144 333h2v1h-2zM155 333h1v1h-1zM158 333h2v1h-2zM190 333h1v1h-1zM235 333h1v1h-1zM256 333h2v1h-2zM298 333h2v1h-2zM523 333h3v1h-3zM556 333h1v1h-1zM571 333h2v1h-2zM591 333h2v1h-2zM596 333h2v1h-2zM653 333h2v1h-2zM674 333h2v1h-2zM704 333h2v1h-2zM709 333h2v1h-2zM733 333h2v1h-2zM73 334h10v1h-10zM102 334h1v1h-1zM139 334h6v1h-6zM155 334h4v1h-4zM190 334h1v1h-1zM193 334h34v1h-34zM234 334h2v1h-2zM257 334h2v1h-2zM297 334h2v1h-2zM524 334h1v1h-1zM556 334h16v1h-16zM592 334h5v1h-5zM654 334h21v1h-21zM705 334h5v1h-5zM734 334h1v1h-1zM72 335h12v1h-12zM101 335h3v1h-3zM138 335h7v1h-7zM155 335h4v1h-4zM190 335h1v1h-1zM193 335h35v1h-35zM234 335h1v1h-1zM258 335h1v1h-1zM297 335h1v1h-1zM524 335h1v1h-1zM556 335h16v1h-16zM592 335h5v1h-5zM654 335h21v1h-21zM705 335h5v1h-5zM734 335h2v1h-2zM72 336h1v1h-1zM83 336h2v1h-2zM100 336h2v1h-2zM103 336h2v1h-2zM138 336h1v1h-1zM190 336h4v1h-4zM227 336h2v1h-2zM233 336h2v1h-2zM258 336h2v1h-2zM296 336h2v1h-2zM735 336h2v1h-2zM71 337h2v1h-2zM84 337h2v1h-2zM99 337h2v1h-2zM104 337h2v1h-2zM137 337h2v1h-2zM191 337h2v1h-2zM228 337h1v1h-1zM232 337h2v1h-2zM259 337h1v1h-1zM295 337h2v1h-2zM736 337h2v1h-2zM70 338h2v1h-2zM85 338h2v1h-2zM94 338h6v1h-6zM105 338h33v1h-33zM191 338h2v1h-2zM228 338h2v1h-2zM231 338h2v1h-2zM259 338h2v1h-2zM291 338h5v1h-5zM737 338h2v1h-2zM70 339h1v1h-1zM86 339h2v1h-2zM94 339h5v1h-5zM106 339h31v1h-31zM191 339h1v1h-1zM229 339h3v1h-3zM260 339h1v1h-1zM288 339h7v1h-7zM738 339h2v1h-2zM87 340h1v1h-1zM93 340h2v1h-2zM230 340h1v1h-1zM260 340h1v1h-1zM288 340h3v1h-3zM739 340h2v1h-2zM87 341h2v1h-2zM93 341h1v1h-1zM260 341h2v1h-2zM287 341h2v1h-2zM740 341h1v1h-1zM88 342h1v1h-1zM92 342h2v1h-2zM261 342h1v1h-1zM287 342h1v1h-1zM740 342h2v1h-2zM88 343h2v1h-2zM92 343h1v1h-1zM261 343h2v1h-2zM286 343h2v1h-2zM741 343h2v1h-2zM89 344h1v1h-1zM91 344h2v1h-2zM262 344h1v1h-1zM286 344h1v1h-1zM742 344h3v1h-3zM89 345h3v1h-3zM262 345h3v1h-3zM285 345h2v1h-2zM743 345h4v1h-4zM90 346h2v1h-2zM263 346h23v1h-23zM745 346h4v1h-4zM798 346h8v1h-8zM90 347h1v1h-1zM265 347h21v1h-21zM747 347h3v1h-3zM797 347h9v1h-9zM749 348h1v1h-1zM797 348h1v1h-1zM749 349h2v1h-2zM796 349h2v1h-2zM750 350h2v1h-2zM795 350h2v1h-2zM751 351h1v1h-1zM795 351h1v1h-1zM751 352h12v1h-12zM790 352h6v1h-6zM752 353h11v1h-11zM790 353h5v1h-5zM762 354h2v1h-2zM789 354h2v1h-2zM763 355h1v1h-1zM789 355h1v1h-1zM763 356h1v1h-1zM788 356h2v1h-2zM763 357h1v1h-1zM788 357h1v1h-1zM763 358h2v1h-2zM787 358h2v1h-2zM764 359h24v1h-24zM764 360h24v1h-24z" fill="#000000" shape-rendering="crispEdges" />
<path d="M310 219h5v1h-5zM309 220h6v1h-6zM309 221h1v1h-1zM314 221h1v1h-1zM308 222h2v1h-2zM314 222h2v1h-2zM308 223h1v1h-1zM315 223h1v1h-1zM307 224h2v1h-2zM315 224h1v1h-1zM307 225h1v1h-1zM315 225h1v1h-1zM307 226h1v1h-1zM315 226h2v1h-2zM307 227h1v1h-1zM316 227h1v1h-1zM307 228h1v1h-1zM316 228h1v1h-1zM306 229h2v1h-2zM316 229h1v1h-1zM306 230h1v1h-1zM316 230h1v1h-1zM306 231h1v1h-1zM316 231h1v1h-1zM306 232h1v1h-1zM316 232h2v1h-2zM392 232h5v1h-5zM306 233h1v1h-1zM317 233h1v1h-1zM392 233h5v1h-5zM306 234h1v1h-1zM317 234h1v1h-1zM392 234h1v1h-1zM396 234h1v1h-1zM306 235h1v1h-1zM317 235h1v1h-1zM392 235h1v1h-1zM396 235h1v1h-1zM306 236h1v1h-1zM317 236h1v1h-1zM391 236h2v1h-2zM396 236h2v1h-2zM306 237h1v1h-1zM317 237h1v1h-1zM391 237h1v1h-1zM397 237h1v1h-1zM306 238h1v1h-1zM317 238h1v1h-1zM391 238h1v1h-1zM397 238h1v1h-1zM306 239h1v1h-1zM317 239h2v1h-2zM391 239h1v1h-1zM397 239h1v1h-1zM306 240h1v1h-1zM318 240h1v1h-1zM391 240h1v1h-1zM397 240h1v1h-1zM305 241h2v1h-2zM318 241h1v1h-1zM391 241h1v1h-1zM397 241h1v1h-1zM305 242h1v1h-1zM318 242h1v1h-1zM391 242h1v1h-1zM397 242h2v1h-2zM305 243h1v1h-1zM318 243h1v1h-1zM390 243h2v1h-2zM398 243h1v1h-1zM305 244h1v1h-1zM318 244h1v1h-1zM390 244h1v1h-1zM398 244h1v1h-1zM305 245h1v1h-1zM318 245h2v1h-2zM326 245h7v1h-7zM365 245h6v1h-6zM390 245h1v1h-1zM398 245h4v1h-4zM406 245h17v1h-17zM427 245h6v1h-6zM305 246h1v1h-1zM319 246h1v1h-1zM326 246h7v1h-7zM365 246h7v1h-7zM390 246h1v1h-1zM398 246h5v1h-5zM406 246h17v1h-17zM427 246h6v1h-6zM305 247h1v1h-1zM319 247h1v1h-1zM326 247h1v1h-1zM332 247h1v1h-1zM365 247h1v1h-1zM371 247h1v1h-1zM390 247h1v1h-1zM402 247h1v1h-1zM405 247h2v1h-2zM422 247h2v1h-2zM426 247h2v1h-2zM432 247h1v1h-1zM305 248h1v1h-1zM319 248h1v1h-1zM326 248h1v1h-1zM332 248h2v1h-2zM364 248h2v1h-2zM371 248h2v1h-2zM390 248h1v1h-1zM402 248h2v1h-2zM405 248h1v1h-1zM423 248h1v1h-1zM426 248h1v1h-1zM432 248h1v1h-1zM305 249h1v1h-1zM319 249h2v1h-2zM326 249h1v1h-1zM333 249h1v1h-1zM364 249h1v1h-1zM372 249h1v1h-1zM390 249h1v1h-1zM403 249h1v1h-1zM405 249h1v1h-1zM423 249h1v1h-1zM425 249h2v1h-2zM432 249h1v1h-1zM305 250h1v1h-1zM320 250h1v1h-1zM326 250h1v1h-1zM333 250h1v1h-1zM364 250h1v1h-1zM372 250h2v1h-2zM389 250h2v1h-2zM403 250h3v1h-3zM423 250h1v1h-1zM425 250h1v1h-1zM432 250h2v1h-2zM305 251h1v1h-1zM320 251h1v1h-1zM326 251h1v1h-1zM333 251h1v1h-1zM364 251h1v1h-1zM373 251h1v1h-1zM389 251h1v1h-1zM404 251h1v1h-1zM423 251h3v1h-3zM433 251h1v1h-1zM305 252h1v1h-1zM320 252h2v1h-2zM326 252h1v1h-1zM333 252h1v1h-1zM364 252h1v1h-1zM373 252h2v1h-2zM389 252h1v1h-1zM404 252h1v1h-1zM424 252h1v1h-1zM433 252h1v1h-1zM474 252h3v1h-3zM305 253h1v1h-1zM321 253h2v1h-2zM325 253h2v1h-2zM333 253h1v1h-1zM363 253h2v1h-2zM374 253h1v1h-1zM389 253h1v1h-1zM424 253h1v1h-1zM433 253h1v1h-1zM474 253h3v1h-3zM305 254h1v1h-1zM322 254h1v1h-1zM325 254h1v1h-1zM333 254h2v1h-2zM363 254h1v1h-1zM374 254h2v1h-2zM388 254h2v1h-2zM433 254h1v1h-1zM473 254h2v1h-2zM476 254h1v1h-1zM305 255h1v1h-1zM322 255h1v1h-1zM325 255h1v1h-1zM334 255h1v1h-1zM363 255h1v1h-1zM375 255h1v1h-1zM388 255h1v1h-1zM433 255h1v1h-1zM473 255h1v1h-1zM476 255h2v1h-2zM304 256h2v1h-2zM322 256h1v1h-1zM325 256h1v1h-1zM334 256h1v1h-1zM363 256h1v1h-1zM375 256h6v1h-6zM387 256h2v1h-2zM433 256h1v1h-1zM472 256h2v1h-2zM477 256h1v1h-1zM304 257h1v1h-1zM322 257h1v1h-1zM325 257h1v1h-1zM334 257h1v1h-1zM363 257h1v1h-1zM376 257h5v1h-5zM387 257h1v1h-1zM433 257h1v1h-1zM469 257h4v1h-4zM477 257h1v1h-1zM304 258h1v1h-1zM322 258h1v1h-1zM325 258h1v1h-1zM334 258h1v1h-1zM362 258h2v1h-2zM380 258h1v1h-1zM386 258h2v1h-2zM433 258h1v1h-1zM468 258h5v1h-5zM477 258h1v1h-1zM304 259h1v1h-1zM322 259h2v1h-2zM325 259h1v1h-1zM334 259h1v1h-1zM362 259h1v1h-1zM380 259h2v1h-2zM386 259h1v1h-1zM433 259h2v1h-2zM468 259h1v1h-1zM477 259h1v1h-1zM304 260h1v1h-1zM323 260h1v1h-1zM325 260h1v1h-1zM334 260h2v1h-2zM362 260h1v1h-1zM381 260h1v1h-1zM386 260h1v1h-1zM434 260h1v1h-1zM467 260h2v1h-2zM477 260h1v1h-1zM304 261h1v1h-1zM323 261h1v1h-1zM325 261h1v1h-1zM335 261h1v1h-1zM362 261h1v1h-1zM381 261h1v1h-1zM386 261h1v1h-1zM434 261h1v1h-1zM467 261h1v1h-1zM477 261h2v1h-2zM304 262h1v1h-1zM323 262h1v1h-1zM325 262h1v1h-1zM335 262h2v1h-2zM348 262h10v1h-10zM362 262h1v1h-1zM381 262h1v1h-1zM385 262h2v1h-2zM434 262h1v1h-1zM466 262h2v1h-2zM478 262h1v1h-1zM172 263h6v1h-6zM304 263h1v1h-1zM323 263h1v1h-1zM325 263h1v1h-1zM335 263h5v1h-5zM348 263h10v1h-10zM361 263h2v1h-2zM381 263h2v1h-2zM385 263h1v1h-1zM434 263h1v1h-1zM450 263h6v1h-6zM466 263h1v1h-1zM478 263h1v1h-1zM482 263h5v1h-5zM541 263h5v1h-5zM610 263h5v1h-5zM622 263h4v1h-4zM172 264h6v1h-6zM304 264h1v1h-1zM323 264h1v1h-1zM325 264h1v1h-1zM337 264h3v1h-3zM348 264h1v1h-1zM357 264h2v1h-2zM361 264h1v1h-1zM382 264h1v1h-1zM385 264h1v1h-1zM434 264h1v1h-1zM450 264h6v1h-6zM466 264h1v1h-1zM478 264h1v1h-1zM482 264h5v1h-5zM541 264h5v1h-5zM610 264h5v1h-5zM622 264h4v1h-4zM172 265h1v1h-1zM177 265h1v1h-1zM303 265h2v1h-2zM323 265h1v1h-1zM325 265h1v1h-1zM339 265h2v1h-2zM347 265h2v1h-2zM358 265h1v1h-1zM361 265h1v1h-1zM382 265h1v1h-1zM384 265h2v1h-2zM434 265h2v1h-2zM450 265h1v1h-1zM455 265h2v1h-2zM465 265h2v1h-2zM478 265h1v1h-1zM481 265h2v1h-2zM486 265h2v1h-2zM541 265h1v1h-1zM545 265h1v1h-1zM610 265h1v1h-1zM614 265h1v1h-1zM622 265h1v1h-1zM625 265h2v1h-2zM172 266h1v1h-1zM177 266h2v1h-2zM303 266h1v1h-1zM323 266h1v1h-1zM325 266h1v1h-1zM340 266h1v1h-1zM347 266h1v1h-1zM358 266h2v1h-2zM361 266h1v1h-1zM382 266h1v1h-1zM384 266h1v1h-1zM435 266h1v1h-1zM450 266h1v1h-1zM456 266h1v1h-1zM465 266h1v1h-1zM478 266h1v1h-1zM481 266h1v1h-1zM487 266h1v1h-1zM541 266h1v1h-1zM545 266h2v1h-2zM610 266h1v1h-1zM614 266h2v1h-2zM622 266h1v1h-1zM626 266h1v1h-1zM172 267h1v1h-1zM178 267h1v1h-1zM303 267h1v1h-1zM323 267h1v1h-1zM325 267h1v1h-1zM340 267h1v1h-1zM347 267h1v1h-1zM359 267h1v1h-1zM361 267h1v1h-1zM382 267h1v1h-1zM384 267h1v1h-1zM435 267h1v1h-1zM450 267h1v1h-1zM456 267h1v1h-1zM465 267h1v1h-1zM478 267h4v1h-4zM487 267h1v1h-1zM540 267h2v1h-2zM546 267h1v1h-1zM609 267h2v1h-2zM615 267h1v1h-1zM622 267h1v1h-1zM626 267h1v1h-1zM172 268h1v1h-1zM178 268h1v1h-1zM303 268h1v1h-1zM323 268h1v1h-1zM325 268h1v1h-1zM340 268h1v1h-1zM347 268h1v1h-1zM359 268h3v1h-3zM382 268h3v1h-3zM435 268h1v1h-1zM450 268h1v1h-1zM456 268h2v1h-2zM465 268h1v1h-1zM479 268h2v1h-2zM487 268h1v1h-1zM540 268h1v1h-1zM546 268h1v1h-1zM609 268h1v1h-1zM615 268h1v1h-1zM622 268h1v1h-1zM626 268h1v1h-1zM172 269h1v1h-1zM178 269h1v1h-1zM302 269h2v1h-2zM323 269h3v1h-3zM340 269h2v1h-2zM347 269h1v1h-1zM359 269h2v1h-2zM383 269h2v1h-2zM435 269h2v1h-2zM449 269h2v1h-2zM457 269h1v1h-1zM465 269h1v1h-1zM479 269h2v1h-2zM487 269h2v1h-2zM513 269h1v1h-1zM540 269h1v1h-1zM546 269h1v1h-1zM609 269h1v1h-1zM615 269h1v1h-1zM621 269h2v1h-2zM626 269h2v1h-2zM172 270h1v1h-1zM178 270h2v1h-2zM302 270h1v1h-1zM323 270h2v1h-2zM341 270h1v1h-1zM346 270h2v1h-2zM360 270h1v1h-1zM383 270h1v1h-1zM436 270h1v1h-1zM449 270h1v1h-1zM457 270h1v1h-1zM464 270h2v1h-2zM479 270h1v1h-1zM488 270h1v1h-1zM513 270h1v1h-1zM525 270h6v1h-6zM540 270h1v1h-1zM546 270h1v1h-1zM609 270h1v1h-1zM615 270h1v1h-1zM621 270h1v1h-1zM627 270h1v1h-1zM172 271h1v1h-1zM179 271h1v1h-1zM302 271h1v1h-1zM323 271h2v1h-2zM341 271h1v1h-1zM346 271h1v1h-1zM360 271h1v1h-1zM383 271h1v1h-1zM436 271h2v1h-2zM449 271h1v1h-1zM457 271h1v1h-1zM464 271h1v1h-1zM488 271h1v1h-1zM512 271h2v1h-2zM525 271h6v1h-6zM540 271h1v1h-1zM546 271h2v1h-2zM609 271h1v1h-1zM615 271h2v1h-2zM621 271h1v1h-1zM627 271h1v1h-1zM171 272h2v1h-2zM179 272h1v1h-1zM301 272h2v1h-2zM324 272h1v1h-1zM341 272h1v1h-1zM346 272h1v1h-1zM437 272h2v1h-2zM449 272h1v1h-1zM457 272h2v1h-2zM464 272h1v1h-1zM488 272h1v1h-1zM512 272h3v1h-3zM525 272h1v1h-1zM530 272h1v1h-1zM540 272h1v1h-1zM547 272h1v1h-1zM609 272h1v1h-1zM616 272h1v1h-1zM621 272h1v1h-1zM627 272h1v1h-1zM171 273h1v1h-1zM179 273h1v1h-1zM301 273h1v1h-1zM324 273h1v1h-1zM341 273h2v1h-2zM346 273h1v1h-1zM438 273h1v1h-1zM449 273h1v1h-1zM458 273h1v1h-1zM464 273h1v1h-1zM488 273h2v1h-2zM512 273h1v1h-1zM514 273h1v1h-1zM525 273h1v1h-1zM530 273h2v1h-2zM540 273h1v1h-1zM547 273h1v1h-1zM609 273h1v1h-1zM616 273h1v1h-1zM621 273h1v1h-1zM627 273h2v1h-2zM171 274h1v1h-1zM179 274h1v1h-1zM301 274h1v1h-1zM324 274h1v1h-1zM342 274h1v1h-1zM346 274h1v1h-1zM438 274h1v1h-1zM449 274h1v1h-1zM458 274h1v1h-1zM463 274h2v1h-2zM489 274h1v1h-1zM511 274h2v1h-2zM514 274h1v1h-1zM525 274h1v1h-1zM531 274h1v1h-1zM539 274h2v1h-2zM547 274h1v1h-1zM608 274h2v1h-2zM616 274h1v1h-1zM621 274h1v1h-1zM628 274h1v1h-1zM171 275h1v1h-1zM179 275h2v1h-2zM300 275h2v1h-2zM324 275h1v1h-1zM342 275h1v1h-1zM346 275h1v1h-1zM438 275h2v1h-2zM449 275h1v1h-1zM458 275h2v1h-2zM463 275h1v1h-1zM489 275h11v1h-11zM511 275h1v1h-1zM514 275h1v1h-1zM525 275h1v1h-1zM531 275h1v1h-1zM539 275h1v1h-1zM547 275h2v1h-2zM608 275h1v1h-1zM616 275h1v1h-1zM621 275h1v1h-1zM628 275h2v1h-2zM171 276h1v1h-1zM180 276h1v1h-1zM300 276h1v1h-1zM324 276h1v1h-1zM342 276h1v1h-1zM345 276h2v1h-2zM439 276h1v1h-1zM449 276h1v1h-1zM459 276h5v1h-5zM489 276h11v1h-11zM511 276h1v1h-1zM514 276h1v1h-1zM525 276h1v1h-1zM531 276h1v1h-1zM539 276h1v1h-1zM548 276h1v1h-1zM608 276h1v1h-1zM616 276h2v1h-2zM621 276h1v1h-1zM628 276h5v1h-5zM641 276h5v1h-5zM686 276h6v1h-6zM171 277h1v1h-1zM180 277h1v1h-1zM300 277h1v1h-1zM324 277h1v1h-1zM342 277h2v1h-2zM345 277h1v1h-1zM439 277h1v1h-1zM449 277h1v1h-1zM459 277h5v1h-5zM499 277h2v1h-2zM511 277h1v1h-1zM514 277h2v1h-2zM525 277h1v1h-1zM531 277h2v1h-2zM539 277h1v1h-1zM548 277h1v1h-1zM608 277h1v1h-1zM617 277h1v1h-1zM621 277h1v1h-1zM630 277h3v1h-3zM641 277h5v1h-5zM685 277h7v1h-7zM171 278h1v1h-1zM180 278h1v1h-1zM300 278h1v1h-1zM343 278h1v1h-1zM345 278h1v1h-1zM439 278h1v1h-1zM449 278h1v1h-1zM500 278h1v1h-1zM510 278h2v1h-2zM515 278h1v1h-1zM524 278h2v1h-2zM532 278h1v1h-1zM539 278h1v1h-1zM548 278h1v1h-1zM608 278h1v1h-1zM617 278h1v1h-1zM621 278h1v1h-1zM632 278h2v1h-2zM641 278h1v1h-1zM645 278h2v1h-2zM685 278h1v1h-1zM691 278h2v1h-2zM171 279h1v1h-1zM180 279h1v1h-1zM300 279h1v1h-1zM343 279h1v1h-1zM345 279h1v1h-1zM439 279h1v1h-1zM448 279h2v1h-2zM500 279h2v1h-2zM510 279h1v1h-1zM515 279h1v1h-1zM524 279h1v1h-1zM532 279h1v1h-1zM539 279h1v1h-1zM548 279h1v1h-1zM608 279h1v1h-1zM617 279h1v1h-1zM620 279h2v1h-2zM633 279h1v1h-1zM641 279h1v1h-1zM646 279h1v1h-1zM684 279h2v1h-2zM692 279h1v1h-1zM171 280h1v1h-1zM180 280h1v1h-1zM300 280h1v1h-1zM343 280h1v1h-1zM345 280h1v1h-1zM439 280h1v1h-1zM448 280h1v1h-1zM501 280h1v1h-1zM510 280h1v1h-1zM515 280h1v1h-1zM524 280h1v1h-1zM532 280h1v1h-1zM539 280h1v1h-1zM548 280h2v1h-2zM607 280h2v1h-2zM617 280h1v1h-1zM620 280h1v1h-1zM633 280h2v1h-2zM641 280h1v1h-1zM646 280h1v1h-1zM683 280h2v1h-2zM692 280h2v1h-2zM171 281h1v1h-1zM180 281h2v1h-2zM299 281h2v1h-2zM343 281h3v1h-3zM439 281h2v1h-2zM448 281h1v1h-1zM501 281h2v1h-2zM509 281h2v1h-2zM515 281h1v1h-1zM524 281h1v1h-1zM532 281h1v1h-1zM538 281h2v1h-2zM549 281h1v1h-1zM607 281h1v1h-1zM617 281h2v1h-2zM620 281h1v1h-1zM634 281h1v1h-1zM640 281h2v1h-2zM646 281h1v1h-1zM683 281h1v1h-1zM693 281h1v1h-1zM171 282h1v1h-1zM181 282h1v1h-1zM299 282h1v1h-1zM344 282h1v1h-1zM440 282h1v1h-1zM448 282h1v1h-1zM502 282h8v1h-8zM515 282h2v1h-2zM524 282h1v1h-1zM532 282h2v1h-2zM538 282h1v1h-1zM549 282h1v1h-1zM607 282h1v1h-1zM618 282h1v1h-1zM620 282h1v1h-1zM634 282h1v1h-1zM640 282h1v1h-1zM646 282h2v1h-2zM682 282h2v1h-2zM693 282h1v1h-1zM171 283h1v1h-1zM181 283h1v1h-1zM299 283h1v1h-1zM344 283h1v1h-1zM440 283h1v1h-1zM448 283h1v1h-1zM502 283h8v1h-8zM516 283h1v1h-1zM524 283h1v1h-1zM533 283h1v1h-1zM538 283h1v1h-1zM549 283h1v1h-1zM554 283h6v1h-6zM597 283h11v1h-11zM618 283h1v1h-1zM620 283h1v1h-1zM634 283h2v1h-2zM640 283h1v1h-1zM647 283h1v1h-1zM680 283h3v1h-3zM693 283h2v1h-2zM171 284h1v1h-1zM181 284h1v1h-1zM299 284h1v1h-1zM344 284h1v1h-1zM440 284h1v1h-1zM448 284h1v1h-1zM516 284h1v1h-1zM524 284h1v1h-1zM533 284h1v1h-1zM538 284h1v1h-1zM549 284h1v1h-1zM554 284h6v1h-6zM597 284h11v1h-11zM618 284h1v1h-1zM620 284h1v1h-1zM635 284h1v1h-1zM640 284h1v1h-1zM647 284h1v1h-1zM679 284h3v1h-3zM694 284h1v1h-1zM170 285h2v1h-2zM181 285h2v1h-2zM299 285h1v1h-1zM440 285h2v1h-2zM448 285h1v1h-1zM516 285h1v1h-1zM524 285h1v1h-1zM533 285h2v1h-2zM538 285h1v1h-1zM549 285h1v1h-1zM554 285h1v1h-1zM559 285h2v1h-2zM597 285h1v1h-1zM618 285h1v1h-1zM620 285h1v1h-1zM635 285h1v1h-1zM640 285h1v1h-1zM647 285h1v1h-1zM679 285h1v1h-1zM694 285h2v1h-2zM170 286h1v1h-1zM182 286h1v1h-1zM299 286h1v1h-1zM441 286h1v1h-1zM447 286h2v1h-2zM516 286h2v1h-2zM524 286h1v1h-1zM534 286h2v1h-2zM537 286h2v1h-2zM549 286h2v1h-2zM553 286h2v1h-2zM560 286h1v1h-1zM596 286h2v1h-2zM618 286h3v1h-3zM635 286h1v1h-1zM639 286h2v1h-2zM647 286h1v1h-1zM678 286h2v1h-2zM695 286h2v1h-2zM170 287h1v1h-1zM182 287h2v1h-2zM299 287h1v1h-1zM441 287h2v1h-2zM447 287h1v1h-1zM517 287h1v1h-1zM523 287h2v1h-2zM535 287h1v1h-1zM537 287h1v1h-1zM550 287h1v1h-1zM553 287h1v1h-1zM560 287h1v1h-1zM596 287h1v1h-1zM619 287h2v1h-2zM635 287h2v1h-2zM639 287h1v1h-1zM647 287h1v1h-1zM678 287h1v1h-1zM696 287h1v1h-1zM144 288h5v1h-5zM158 288h1v1h-1zM166 288h5v1h-5zM183 288h1v1h-1zM212 288h5v1h-5zM247 288h6v1h-6zM299 288h1v1h-1zM442 288h6v1h-6zM517 288h1v1h-1zM523 288h1v1h-1zM535 288h3v1h-3zM550 288h1v1h-1zM553 288h1v1h-1zM560 288h1v1h-1zM576 288h6v1h-6zM596 288h1v1h-1zM619 288h1v1h-1zM636 288h1v1h-1zM639 288h1v1h-1zM647 288h1v1h-1zM650 288h6v1h-6zM677 288h2v1h-2zM696 288h2v1h-2zM708 288h5v1h-5zM144 289h5v1h-5zM158 289h2v1h-2zM166 289h5v1h-5zM183 289h2v1h-2zM211 289h7v1h-7zM247 289h6v1h-6zM298 289h2v1h-2zM442 289h5v1h-5zM517 289h1v1h-1zM523 289h1v1h-1zM536 289h1v1h-1zM550 289h1v1h-1zM553 289h1v1h-1zM560 289h2v1h-2zM576 289h6v1h-6zM596 289h1v1h-1zM619 289h1v1h-1zM636 289h1v1h-1zM639 289h1v1h-1zM647 289h1v1h-1zM650 289h6v1h-6zM677 289h1v1h-1zM697 289h1v1h-1zM708 289h6v1h-6zM144 290h1v1h-1zM148 290h2v1h-2zM157 290h3v1h-3zM165 290h2v1h-2zM184 290h1v1h-1zM211 290h1v1h-1zM217 290h2v1h-2zM247 290h1v1h-1zM252 290h2v1h-2zM298 290h1v1h-1zM517 290h2v1h-2zM523 290h1v1h-1zM550 290h1v1h-1zM552 290h2v1h-2zM561 290h1v1h-1zM575 290h2v1h-2zM581 290h2v1h-2zM595 290h2v1h-2zM636 290h1v1h-1zM638 290h2v1h-2zM647 290h1v1h-1zM650 290h1v1h-1zM655 290h2v1h-2zM677 290h1v1h-1zM697 290h1v1h-1zM707 290h2v1h-2zM713 290h1v1h-1zM143 291h2v1h-2zM149 291h1v1h-1zM157 291h1v1h-1zM159 291h2v1h-2zM165 291h1v1h-1zM184 291h2v1h-2zM210 291h2v1h-2zM218 291h1v1h-1zM247 291h1v1h-1zM253 291h1v1h-1zM298 291h1v1h-1zM518 291h1v1h-1zM523 291h1v1h-1zM550 291h1v1h-1zM552 291h1v1h-1zM561 291h1v1h-1zM575 291h1v1h-1zM582 291h1v1h-1zM595 291h1v1h-1zM636 291h1v1h-1zM638 291h1v1h-1zM647 291h1v1h-1zM650 291h1v1h-1zM656 291h1v1h-1zM676 291h2v1h-2zM697 291h2v1h-2zM707 291h1v1h-1zM713 291h2v1h-2zM143 292h1v1h-1zM149 292h2v1h-2zM156 292h2v1h-2zM160 292h2v1h-2zM164 292h2v1h-2zM185 292h1v1h-1zM209 292h2v1h-2zM218 292h2v1h-2zM246 292h2v1h-2zM253 292h1v1h-1zM298 292h1v1h-1zM518 292h1v1h-1zM523 292h1v1h-1zM550 292h3v1h-3zM561 292h1v1h-1zM574 292h2v1h-2zM582 292h2v1h-2zM595 292h1v1h-1zM636 292h1v1h-1zM638 292h1v1h-1zM647 292h1v1h-1zM650 292h1v1h-1zM656 292h1v1h-1zM676 292h1v1h-1zM698 292h1v1h-1zM707 292h1v1h-1zM714 292h1v1h-1zM143 293h1v1h-1zM150 293h1v1h-1zM156 293h1v1h-1zM161 293h2v1h-2zM164 293h1v1h-1zM185 293h1v1h-1zM208 293h2v1h-2zM219 293h1v1h-1zM246 293h1v1h-1zM253 293h1v1h-1zM298 293h1v1h-1zM518 293h1v1h-1zM522 293h2v1h-2zM551 293h2v1h-2zM561 293h2v1h-2zM574 293h1v1h-1zM583 293h1v1h-1zM595 293h1v1h-1zM636 293h3v1h-3zM647 293h1v1h-1zM650 293h1v1h-1zM656 293h1v1h-1zM676 293h1v1h-1zM698 293h1v1h-1zM707 293h1v1h-1zM714 293h2v1h-2zM143 294h1v1h-1zM150 294h1v1h-1zM156 294h1v1h-1zM162 294h3v1h-3zM185 294h1v1h-1zM208 294h1v1h-1zM219 294h1v1h-1zM246 294h1v1h-1zM253 294h2v1h-2zM298 294h1v1h-1zM518 294h2v1h-2zM522 294h1v1h-1zM551 294h2v1h-2zM562 294h7v1h-7zM574 294h1v1h-1zM583 294h2v1h-2zM594 294h2v1h-2zM637 294h2v1h-2zM647 294h1v1h-1zM649 294h2v1h-2zM656 294h2v1h-2zM675 294h2v1h-2zM698 294h1v1h-1zM706 294h2v1h-2zM715 294h1v1h-1zM143 295h1v1h-1zM150 295h2v1h-2zM155 295h2v1h-2zM162 295h2v1h-2zM185 295h1v1h-1zM207 295h2v1h-2zM219 295h2v1h-2zM246 295h1v1h-1zM254 295h1v1h-1zM298 295h1v1h-1zM519 295h4v1h-4zM551 295h1v1h-1zM562 295h7v1h-7zM573 295h2v1h-2zM584 295h11v1h-11zM637 295h1v1h-1zM647 295h1v1h-1zM649 295h1v1h-1zM657 295h1v1h-1zM664 295h5v1h-5zM675 295h1v1h-1zM698 295h2v1h-2zM706 295h1v1h-1zM715 295h11v1h-11zM142 296h2v1h-2zM151 296h1v1h-1zM155 296h1v1h-1zM163 296h1v1h-1zM185 296h1v1h-1zM207 296h1v1h-1zM220 296h1v1h-1zM246 296h1v1h-1zM254 296h1v1h-1zM298 296h1v1h-1zM519 296h4v1h-4zM551 296h1v1h-1zM568 296h2v1h-2zM573 296h1v1h-1zM584 296h11v1h-11zM637 296h1v1h-1zM647 296h3v1h-3zM657 296h1v1h-1zM664 296h6v1h-6zM674 296h2v1h-2zM699 296h1v1h-1zM706 296h1v1h-1zM716 296h11v1h-11zM142 297h1v1h-1zM151 297h1v1h-1zM155 297h1v1h-1zM185 297h2v1h-2zM207 297h1v1h-1zM220 297h1v1h-1zM246 297h1v1h-1zM254 297h1v1h-1zM297 297h2v1h-2zM569 297h1v1h-1zM573 297h1v1h-1zM648 297h2v1h-2zM657 297h2v1h-2zM663 297h2v1h-2zM669 297h1v1h-1zM674 297h1v1h-1zM699 297h1v1h-1zM705 297h2v1h-2zM726 297h1v1h-1zM142 298h1v1h-1zM151 298h2v1h-2zM154 298h2v1h-2zM186 298h1v1h-1zM206 298h2v1h-2zM220 298h1v1h-1zM245 298h2v1h-2zM254 298h1v1h-1zM297 298h1v1h-1zM569 298h2v1h-2zM572 298h2v1h-2zM648 298h2v1h-2zM658 298h1v1h-1zM663 298h1v1h-1zM669 298h2v1h-2zM674 298h1v1h-1zM699 298h1v1h-1zM705 298h1v1h-1zM726 298h2v1h-2zM141 299h2v1h-2zM152 299h1v1h-1zM154 299h1v1h-1zM186 299h1v1h-1zM206 299h1v1h-1zM220 299h1v1h-1zM245 299h1v1h-1zM254 299h1v1h-1zM297 299h1v1h-1zM570 299h1v1h-1zM572 299h1v1h-1zM648 299h2v1h-2zM658 299h1v1h-1zM662 299h2v1h-2zM670 299h1v1h-1zM673 299h2v1h-2zM699 299h1v1h-1zM705 299h1v1h-1zM727 299h2v1h-2zM141 300h1v1h-1zM152 300h3v1h-3zM186 300h1v1h-1zM206 300h1v1h-1zM220 300h2v1h-2zM245 300h1v1h-1zM254 300h2v1h-2zM297 300h1v1h-1zM570 300h3v1h-3zM648 300h2v1h-2zM658 300h1v1h-1zM662 300h1v1h-1zM670 300h2v1h-2zM673 300h1v1h-1zM699 300h2v1h-2zM705 300h1v1h-1zM728 300h1v1h-1zM70 301h11v1h-11zM126 301h4v1h-4zM140 301h2v1h-2zM153 301h1v1h-1zM186 301h1v1h-1zM196 301h6v1h-6zM206 301h1v1h-1zM221 301h1v1h-1zM232 301h14v1h-14zM255 301h1v1h-1zM297 301h1v1h-1zM571 301h1v1h-1zM648 301h2v1h-2zM658 301h2v1h-2zM661 301h2v1h-2zM671 301h3v1h-3zM700 301h1v1h-1zM704 301h2v1h-2zM728 301h2v1h-2zM70 302h11v1h-11zM126 302h4v1h-4zM139 302h2v1h-2zM153 302h1v1h-1zM186 302h1v1h-1zM194 302h8v1h-8zM205 302h2v1h-2zM221 302h1v1h-1zM232 302h14v1h-14zM255 302h1v1h-1zM297 302h1v1h-1zM571 302h1v1h-1zM648 302h2v1h-2zM659 302h3v1h-3zM671 302h2v1h-2zM700 302h5v1h-5zM729 302h2v1h-2zM80 303h1v1h-1zM126 303h1v1h-1zM129 303h2v1h-2zM139 303h1v1h-1zM186 303h1v1h-1zM193 303h3v1h-3zM201 303h2v1h-2zM205 303h1v1h-1zM221 303h1v1h-1zM231 303h2v1h-2zM255 303h1v1h-1zM297 303h1v1h-1zM648 303h2v1h-2zM659 303h3v1h-3zM672 303h1v1h-1zM700 303h5v1h-5zM730 303h2v1h-2zM80 304h1v1h-1zM126 304h1v1h-1zM130 304h1v1h-1zM138 304h2v1h-2zM186 304h1v1h-1zM192 304h2v1h-2zM202 304h1v1h-1zM205 304h1v1h-1zM221 304h1v1h-1zM231 304h1v1h-1zM255 304h1v1h-1zM297 304h1v1h-1zM648 304h2v1h-2zM731 304h2v1h-2zM80 305h2v1h-2zM126 305h1v1h-1zM130 305h2v1h-2zM138 305h1v1h-1zM186 305h1v1h-1zM192 305h1v1h-1zM202 305h2v1h-2zM205 305h1v1h-1zM221 305h1v1h-1zM231 305h1v1h-1zM255 305h1v1h-1zM296 305h2v1h-2zM648 305h1v1h-1zM732 305h1v1h-1zM81 306h1v1h-1zM126 306h1v1h-1zM131 306h1v1h-1zM137 306h2v1h-2zM186 306h1v1h-1zM192 306h1v1h-1zM203 306h3v1h-3zM221 306h2v1h-2zM231 306h1v1h-1zM255 306h1v1h-1zM296 306h1v1h-1zM648 306h1v1h-1zM732 306h2v1h-2zM81 307h1v1h-1zM125 307h2v1h-2zM131 307h2v1h-2zM137 307h1v1h-1zM186 307h2v1h-2zM191 307h2v1h-2zM203 307h2v1h-2zM222 307h1v1h-1zM230 307h2v1h-2zM255 307h1v1h-1zM296 307h1v1h-1zM648 307h1v1h-1zM733 307h1v1h-1zM81 308h1v1h-1zM90 308h4v1h-4zM98 308h11v1h-11zM117 308h1v1h-1zM125 308h1v1h-1zM132 308h6v1h-6zM187 308h1v1h-1zM191 308h1v1h-1zM204 308h1v1h-1zM222 308h9v1h-9zM255 308h2v1h-2zM288 308h9v1h-9zM648 308h1v1h-1zM733 308h2v1h-2zM81 309h1v1h-1zM90 309h5v1h-5zM98 309h12v1h-12zM116 309h3v1h-3zM125 309h1v1h-1zM132 309h5v1h-5zM187 309h1v1h-1zM191 309h1v1h-1zM204 309h1v1h-1zM222 309h9v1h-9zM256 309h1v1h-1zM288 309h9v1h-9zM648 309h1v1h-1zM734 309h3v1h-3zM81 310h1v1h-1zM89 310h2v1h-2zM94 310h1v1h-1zM97 310h2v1h-2zM109 310h1v1h-1zM115 310h2v1h-2zM118 310h2v1h-2zM125 310h1v1h-1zM187 310h1v1h-1zM191 310h1v1h-1zM256 310h1v1h-1zM287 310h2v1h-2zM735 310h3v1h-3zM81 311h2v1h-2zM89 311h1v1h-1zM94 311h2v1h-2zM97 311h1v1h-1zM109 311h2v1h-2zM115 311h1v1h-1zM119 311h2v1h-2zM125 311h1v1h-1zM187 311h1v1h-1zM190 311h2v1h-2zM256 311h1v1h-1zM287 311h1v1h-1zM737 311h2v1h-2zM82 312h1v1h-1zM88 312h2v1h-2zM95 312h1v1h-1zM97 312h1v1h-1zM110 312h2v1h-2zM114 312h2v1h-2zM120 312h1v1h-1zM125 312h1v1h-1zM187 312h1v1h-1zM190 312h1v1h-1zM256 312h1v1h-1zM287 312h1v1h-1zM738 312h2v1h-2zM82 313h1v1h-1zM88 313h1v1h-1zM95 313h3v1h-3zM111 313h1v1h-1zM113 313h2v1h-2zM120 313h2v1h-2zM125 313h1v1h-1zM187 313h1v1h-1zM190 313h1v1h-1zM256 313h1v1h-1zM286 313h2v1h-2zM739 313h1v1h-1zM82 314h7v1h-7zM96 314h1v1h-1zM111 314h3v1h-3zM121 314h1v1h-1zM125 314h1v1h-1zM187 314h1v1h-1zM190 314h1v1h-1zM256 314h1v1h-1zM271 314h5v1h-5zM286 314h1v1h-1zM739 314h2v1h-2zM82 315h6v1h-6zM96 315h1v1h-1zM112 315h1v1h-1zM121 315h2v1h-2zM125 315h1v1h-1zM187 315h1v1h-1zM189 315h2v1h-2zM256 315h1v1h-1zM271 315h5v1h-5zM286 315h1v1h-1zM740 315h1v1h-1zM122 316h1v1h-1zM125 316h1v1h-1zM187 316h1v1h-1zM189 316h1v1h-1zM256 316h2v1h-2zM270 316h2v1h-2zM275 316h2v1h-2zM285 316h2v1h-2zM740 316h1v1h-1zM122 317h1v1h-1zM124 317h2v1h-2zM187 317h3v1h-3zM257 317h1v1h-1zM270 317h1v1h-1zM276 317h1v1h-1zM285 317h1v1h-1zM740 317h2v1h-2zM122 318h3v1h-3zM188 318h2v1h-2zM257 318h1v1h-1zM269 318h2v1h-2zM276 318h2v1h-2zM285 318h1v1h-1zM741 318h1v1h-1zM123 319h2v1h-2zM188 319h2v1h-2zM257 319h1v1h-1zM269 319h1v1h-1zM277 319h1v1h-1zM284 319h2v1h-2zM741 319h1v1h-1zM123 320h2v1h-2zM188 320h1v1h-1zM257 320h6v1h-6zM269 320h1v1h-1zM277 320h2v1h-2zM284 320h1v1h-1zM741 320h1v1h-1zM124 321h1v1h-1zM188 321h1v1h-1zM257 321h7v1h-7zM268 321h2v1h-2zM278 321h1v1h-1zM283 321h2v1h-2zM741 321h1v1h-1zM124 322h1v1h-1zM188 322h1v1h-1zM263 322h1v1h-1zM268 322h1v1h-1zM278 322h1v1h-1zM283 322h1v1h-1zM741 322h2v1h-2zM263 323h2v1h-2zM267 323h2v1h-2zM278 323h2v1h-2zM282 323h2v1h-2zM742 323h1v1h-1zM264 324h2v1h-2zM267 324h1v1h-1zM279 324h1v1h-1zM281 324h2v1h-2zM742 324h1v1h-1zM265 325h3v1h-3zM279 325h3v1h-3zM742 325h1v1h-1zM265 326h2v1h-2zM280 326h2v1h-2zM742 326h1v1h-1zM266 327h1v1h-1zM280 327h1v1h-1zM742 327h2v1h-2zM743 328h1v1h-1zM743 329h1v1h-1zM743 330h1v1h-1zM743 331h1v1h-1zM743 332h2v1h-2zM744 333h1v1h-1zM744 334h13v1h-13zM798 334h1v1h-1zM744 335h14v1h-14zM797 335h3v1h-3zM757 336h2v1h-2zM797 336h1v1h-1zM799 336h2v1h-2zM758 337h1v1h-1zM796 337h2v1h-2zM800 337h2v1h-2zM758 338h9v1h-9zM775 338h7v1h-7zM790 338h7v1h-7zM801 338h5v1h-5zM759 339h9v1h-9zM775 339h8v1h-8zM790 339h6v1h-6zM802 339h4v1h-4zM767 340h1v1h-1zM774 340h2v1h-2zM782 340h1v1h-1zM789 340h2v1h-2zM767 341h2v1h-2zM774 341h1v1h-1zM782 341h2v1h-2zM789 341h1v1h-1zM768 342h2v1h-2zM774 342h1v1h-1zM783 342h1v1h-1zM789 342h1v1h-1zM769 343h1v1h-1zM773 343h2v1h-2zM783 343h2v1h-2zM788 343h2v1h-2zM769 344h2v1h-2zM773 344h1v1h-1zM784 344h1v1h-1zM788 344h1v1h-1zM770 345h4v1h-4zM784 345h2v1h-2zM787 345h2v1h-2zM771 346h2v1h-2zM785 346h3v1h-3zM772 347h1v1h-1zM785 347h3v1h-3z" fill="#0000cc" shape-rendering="crispEdges" />
<rect x="120" y="54" width="19" height="4" fill="#666"/>
<rect x="184" y="54" width="14" height="4" fill="#666"/>
<rect x="200" y="54" width="6" height="4" fill="#666"/>
<rect x="210" y="54" width="24" height="4" fill="#666"/>
<rect x="236" y="54" width="24" height="4" fill="#666"/>
<rect x="272" y="54" width="6" height="4" fill="#666"/>
<rect x="377" y="54" width="4" height="4" fill="#666"/>
<rect x="387" y="54" width="6" height="4" fill="#666"/>
<rect x="410" y="54" width="38" height="4" fill="#666"/>
<rect x="449" y="54" width="12" height="4" fill="#666"/>
<rect x="511" y="54" width="11" height="4" fill="#666"/>
<rect x="531" y="54" width="4" height="4" fill="#666"/>
<rect x="536" y="54" width="4" height="4" fill="#666"/>
<rect x="544" y="54" width="14" height="4" fill="#666"/>
<rect x="585" y="54" width="12" height="4" fill="#666"/>
<rect x="598" y="54" width="53" height="4" fill="#666"/>
<rect x="652" y="54" width="9" height="4" fill="#666"/>
<rect x="665" y="54" width="11" height="4" fill="#666"/>
<rect x="680" y="54" width="17" height="4" fill="#666"/>
<rect x="739" y="54" width="4" height="4" fill="#666"/>
<rect x="233" y="73" width="4" height="4" fill="#666"/>
<rect x="521" y="73" width="11" height="4" fill="#666"/>
<rect x="534" y="73" width="4" height="4" fill="#666"/>
<rect x="539" y="73" width="6" height="4" fill="#666"/>
<rect x="557" y="73" width="4" height="4" fill="#666"/>
<rect x="567" y="73" width="19" height="4" fill="#666"/>
<rect x="595" y="73" width="4" height="4" fill="#666"/>
<rect x="649" y="73" width="4" height="4" fill="#666"/>
<rect x="660" y="73" width="6" height="4" fill="#666"/>
<rect x="675" y="73" width="7" height="4" fill="#666"/>
<rect x="696" y="73" width="9" height="4" fill="#666"/>
<rect x="716" y="73" width="25" height="4" fill="#666"/>
<rect x="261" y="92" width="4" height="4" fill="#666"/>
<rect x="559" y="92" width="9" height="4" fill="#666"/>
<rect x="703" y="92" width="14" height="4" fill="#666"/>
<rect x="775" y="112" width="19" height="4" fill="#666"/>
<rect x="796" y="112" width="12" height="4" fill="#666"/>
<rect x="793" y="131" width="4" height="4" fill="#666"/>
<rect x="284" y="305" width="4" height="4" fill="#666"/>
<rect x="110" y="325" width="9" height="4" fill="#666"/>
<rect x="143" y="325" width="11" height="4" fill="#666"/>
<rect x="279" y="325" width="6" height="4" fill="#666"/>
<rect x="287" y="325" width="11" height="4" fill="#666"/>
<rect x="302" y="325" width="17" height="4" fill="#666"/>
<rect x="467" y="325" width="3" height="4" fill="#666"/>
<rect x="477" y="325" width="4" height="4" fill="#666"/>
<rect x="70" y="344" width="41" height="4" fill="#666"/>
<rect x="117" y="344" width="4" height="4" fill="#666"/>
<rect x="138" y="344" width="6" height="4" fill="#666"/>
<rect x="153" y="344" width="33" height="4" fill="#666"/>
<rect x="197" y="344" width="4" height="4" fill="#666"/>
<rect x="205" y="344" width="6" height="4" fill="#666"/>
<rect x="259" y="344" width="27" height="4" fill="#666"/>
<rect x="297" y="344" width="7" height="4" fill="#666"/>
<rect x="318" y="344" width="59" height="4" fill="#666"/>
<rect x="379" y="344" width="10" height="4" fill="#666"/>
<rect x="392" y="344" width="20" height="4" fill="#666"/>
<rect x="446" y="344" width="4" height="4" fill="#666"/>
<rect x="459" y="344" width="9" height="4" fill="#666"/>
<rect x="469" y="344" width="10" height="4" fill="#666"/>
<rect x="480" y="344" width="32" height="4" fill="#666"/>
<rect x="742" y="344" width="35" height="4" fill="#666"/>
<rect x="69" y="339" width="4" height="8" fill="#666"/>
<path d="M307.5 365L309.5 305" fill="none" stroke="#00b4ff" stroke-width="1.2"/><path d="M309 304H805" fill="none" stroke="#00b4ff" stroke-width="2" shape-rendering="crispEdges"/>
<circle cx="303.6" cy="360.6" r="4" fill="#ffee00" stroke="#000" stroke-width="0.8"/>
<circle cx="612.4" cy="360.6" r="4" fill="#ffee00" stroke="#000" stroke-width="0.8"/>
<path d="M28.5 40V366" stroke="#228b22" stroke-width="1" shape-rendering="crispEdges"/>
<path d="M50.5 40V366" stroke="#8800cc" stroke-width="1" shape-rendering="crispEdges"/>
<path d="M70.5 40V366" stroke="#ff0000" stroke-width="1" shape-rendering="crispEdges"/>
<path d="M805.5 40V366" stroke="#777777" stroke-width="1" shape-rendering="crispEdges"/>
<path d="M825.5 40V366" stroke="#000" stroke-width="1" shape-rendering="crispEdges"/>
<path d="M845.5 40V366" stroke="#00b4ff" stroke-width="1" shape-rendering="crispEdges"/>
<path d="M860.5 40V366" stroke="#ffee00" stroke-width="1" shape-rendering="crispEdges"/>
<path d="M875.5 40V366" stroke="#ff8000" stroke-width="1" shape-rendering="crispEdges"/>
<path d="M26 55.5H31M26 74.5H31M26 93.5H31M26 113.5H31M26 132.5H31M26 151.5H31M26 171.5H31M26 190.5H31M26 210.5H31M26 229.5H31M26 248.5H31M26 268.5H31M26 287.5H31M26 306.5H31M26 326.5H31M26 345.5H31M26 365.5H31" stroke="#228b22" stroke-width="1" shape-rendering="crispEdges"/>
<text x="24.5" y="57.5" fill="#228b22" text-anchor="end">1020</text>
<text x="24.5" y="76.5" fill="#228b22" text-anchor="end">1019</text>
<text x="24.5" y="95.5" fill="#228b22" text-anchor="end">1018</text>
<text x="24.5" y="115.5" fill="#228b22" text-anchor="end">1017</text>
<text x="24.5" y="134.5" fill="#228b22" text-anchor="end">1016</text>
<text x="24.5" y="153.5" fill="#228b22" text-anchor="end">1015</text>
<text x="24.5" y="173.5" fill="#228b22" text-anchor="end">1014</text>
<text x="24.5" y="192.5" fill="#228b22" text-anchor="end">1013</text>
<text x="24.5" y="212.5" fill="#228b22" text-anchor="end">1012</text>
<text x="24.5" y="231.5" fill="#228b22" text-anchor="end">1011</text>
<text x="24.5" y="250.5" fill="#228b22" text-anchor="end">1010</text>
<text x="24.5" y="270.5" fill="#228b22" text-anchor="end">1009</text>
<text x="24.5" y="289.5" fill="#228b22" text-anchor="end">1008</text>
<text x="24.5" y="308.5" fill="#228b22" text-anchor="end">1007</text>
<text x="24.5" y="328.5" fill="#228b22" text-anchor="end">1006</text>
<text x="24.5" y="347.5" fill="#228b22" text-anchor="end">1005</text>
<text x="24.5" y="367.5" fill="#228b22" text-anchor="end">1004</text>
<path d="M48 55.5H53M48 86.5H53M48 117.5H53M48 148.5H53M48 179.5H53M48 210.5H53M48 241.5H53M48 272.5H53M48 303.5H53M48 334.5H53M48 365.5H53" stroke="#8800cc" stroke-width="1" shape-rendering="crispEdges"/>
<text x="45.5" y="57.5" fill="#8800cc" text-anchor="end">100</text>
<text x="45.5" y="88.5" fill="#8800cc" text-anchor="end">90</text>
<text x="45.5" y="119.5" fill="#8800cc" text-anchor="end">80</text>
<text x="45.5" y="150.5" fill="#8800cc" text-anchor="end">70</text>
<text x="45.5" y="181.5" fill="#8800cc" text-anchor="end">60</text>
<text x="45.5" y="212.5" fill="#8800cc" text-anchor="end">50</text>
<text x="45.5" y="243.5" fill="#8800cc" text-anchor="end">40</text>
<text x="45.5" y="274.5" fill="#8800cc" text-anchor="end">30</text>
<text x="45.5" y="305.5" fill="#8800cc" text-anchor="end">20</text>
<text x="45.5" y="336.5" fill="#8800cc" text-anchor="end">10</text>
<text x="45.5" y="367.5" fill="#8800cc" text-anchor="end">0</text>
<path d="M68 55.5H73M68 71.5H73M68 87.5H73M68 103.5H73M68 120.5H73M68 136.5H73M68 152.5H73M68 169.5H73M68 185.5H73M68 201.5H73M68 218.5H73M68 234.5H73M68 250.5H73M68 267.5H73M68 283.5H73M68 299.5H73M68 316.5H73M68 332.5H73M68 348.5H73M68 365.5H73" stroke="#ff0000" stroke-width="1" shape-rendering="crispEdges"/>
<text x="67.5" y="57.5" fill="#ff0000" text-anchor="end">9</text>
<text x="67.5" y="73.5" fill="#ff0000" text-anchor="end">8</text>
<text x="67.5" y="89.5" fill="#ff0000" text-anchor="end">7</text>
<text x="67.5" y="105.5" fill="#ff0000" text-anchor="end">6</text>
<text x="67.5" y="122.5" fill="#ff0000" text-anchor="end">5</text>
<text x="67.5" y="138.5" fill="#ff0000" text-anchor="end">4</text>
<text x="67.5" y="154.5" fill="#ff0000" text-anchor="end">3</text>
<text x="67.5" y="171.5" fill="#ff0000" text-anchor="end">2</text>
<text x="67.5" y="187.5" fill="#ff0000" text-anchor="end">1</text>
<text x="67.5" y="203.5" fill="#ff0000" text-anchor="end">0</text>
<text x="67.5" y="220.5" fill="#ff0000" text-anchor="end">-1</text>
<text x="67.5" y="236.5" fill="#ff0000" text-anchor="end">-2</text>
<text x="67.5" y="252.5" fill="#ff0000" text-anchor="end">-3</text>
<text x="67.5" y="269.5" fill="#ff0000" text-anchor="end">-4</text>
<text x="67.5" y="285.5" fill="#ff0000" text-anchor="end">-5</text>
<text x="67.5" y="301.5" fill="#ff0000" text-anchor="end">-6</text>
<text x="67.5" y="318.5" fill="#ff0000" text-anchor="end">-7</text>
<text x="67.5" y="334.5" fill="#ff0000" text-anchor="end">-8</text>
<text x="67.5" y="350.5" fill="#ff0000" text-anchor="end">-9</text>
<text x="67.5" y="367.5" fill="#ff0000" text-anchor="end">-10</text>
<path d="M823 55.5H828M823 83.5H828M823 111.5H828M823 139.5H828M823 167.5H828M823 195.5H828M823 224.5H828M823 252.5H828M823 280.5H828M823 308.5H828M823 336.5H828M823 365.5H828" stroke="#000" stroke-width="1" shape-rendering="crispEdges"/>
<text x="828.5" y="57.5" fill="#000">22</text>
<text x="828.5" y="85.5" fill="#000">20</text>
<text x="828.5" y="113.5" fill="#000">18</text>
<text x="828.5" y="141.5" fill="#000">16</text>
<text x="828.5" y="169.5" fill="#000">14</text>
<text x="828.5" y="197.5" fill="#000">12</text>
<text x="828.5" y="226.5" fill="#000">10</text>
<text x="828.5" y="254.5" fill="#000">8</text>
<text x="828.5" y="282.5" fill="#000">6</text>
<text x="828.5" y="310.5" fill="#000">4</text>
<text x="828.5" y="338.5" fill="#000">2</text>
<text x="828.5" y="367.5" fill="#000">0</text>
<path d="M843 55.5H848M843 365.5H848" stroke="#00b4ff" stroke-width="1" shape-rendering="crispEdges"/>
<text x="848.5" y="57.5" fill="#00b4ff">1</text>
<text x="848.5" y="367.5" fill="#00b4ff">0</text>
<path d="M858 55.5H863M858 117.5H863M858 179.5H863M858 241.5H863M858 303.5H863M858 365.5H863" stroke="#ffee00" stroke-width="1" shape-rendering="crispEdges"/>
<text x="863.5" y="57.5" fill="#ffee00">5</text>
<text x="863.5" y="119.5" fill="#ffee00">4</text>
<text x="863.5" y="181.5" fill="#ffee00">3</text>
<text x="863.5" y="243.5" fill="#ffee00">2</text>
<text x="863.5" y="305.5" fill="#ffee00">1</text>
<text x="863.5" y="367.5" fill="#ffee00">0</text>
<path d="M873 210.5H878M873 225.5H878M873 241.5H878M873 256.5H878M873 272.5H878M873 287.5H878M873 303.5H878M873 318.5H878M873 334.5H878M873 349.5H878M873 365.5H878" stroke="#ff8000" stroke-width="1" shape-rendering="crispEdges"/>
<text x="878.5" y="212.5" fill="#ff8000">1500</text>
<text x="878.5" y="227.5" fill="#ff8000">1350</text>
<text x="878.5" y="243.5" fill="#ff8000">1200</text>
<text x="878.5" y="258.5" fill="#ff8000">1050</text>
<text x="878.5" y="274.5" fill="#ff8000">900</text>
<text x="878.5" y="289.5" fill="#ff8000">750</text>
<text x="878.5" y="305.5" fill="#ff8000">600</text>
<text x="878.5" y="320.5" fill="#ff8000">450</text>
<text x="878.5" y="336.5" fill="#ff8000">300</text>
<text x="878.5" y="351.5" fill="#ff8000">150</text>
<text x="878.5" y="367.5" fill="#ff8000">0</text>
<path d="M802 55.5H808M802 93.5H808M802 132.5H808M802 171.5H808M802 210.5H808M802 248.5H808M802 287.5H808M802 326.5H808" stroke="#777" stroke-width="1" shape-rendering="crispEdges"/>
<text x="816" y="57.5" fill="#777777" text-anchor="middle">360</text>
<text x="816" y="65.5" fill="#777777" text-anchor="middle">N</text>
<text x="816" y="95.5" fill="#777777" text-anchor="middle">315</text>
<text x="816" y="103.5" fill="#777777" text-anchor="middle">NW</text>
<text x="816" y="134.5" fill="#777777" text-anchor="middle">270</text>
<text x="816" y="142.5" fill="#777777" text-anchor="middle">W</text>
<text x="816" y="173.5" fill="#777777" text-anchor="middle">225</text>
<text x="816" y="181.5" fill="#777777" text-anchor="middle">SW</text>
<text x="816" y="212.5" fill="#777777" text-anchor="middle">180</text>
<text x="816" y="220.5" fill="#777777" text-anchor="middle">S</text>
<text x="816" y="250.5" fill="#777777" text-anchor="middle">135</text>
<text x="816" y="258.5" fill="#777777" text-anchor="middle">SE</text>
<text x="813.5" y="289.5" fill="#777777" text-anchor="middle">90</text>
<text x="813.5" y="297.5" fill="#777777" text-anchor="middle">E</text>
<text x="813.5" y="328.5" fill="#777777" text-anchor="middle">45</text>
<text x="813.5" y="336.5" fill="#777777" text-anchor="middle">NE</text>
<text x="5.5" y="47" fill="#228b22">hPa</text>
<text x="39.5" y="47" fill="#8800cc">%</text>
<text x="57.5" y="47" fill="#ff0000">°C</text>
<text x="808.5" y="47" fill="#777777">°</text>
<text x="828.5" y="47.5" fill="#000">m/s</text>
<text x="848.5" y="47" fill="#00b4ff">mm</text>
<text x="878.5" y="47" fill="#ff8000">W</text>
<path d="M70 365.5H806" stroke="#000" stroke-width="1" shape-rendering="crispEdges"/>
<path d="M70 366.5H806" stroke="#ffee00" stroke-width="1" shape-rendering="crispEdges"/>
<rect x="70" y="367" width="1" height="1" fill="#000"/>
<text class="rot" transform="translate(73.5,398) rotate(-90)" fill="#000">00:00</text>
<rect x="85" y="367" width="1" height="1" fill="#000"/>
<text class="rot" transform="translate(88.5,398) rotate(-90)" fill="#000">00:30</text>
<rect x="100" y="367" width="1" height="1" fill="#000"/>
<text class="rot" transform="translate(103.5,398) rotate(-90)" fill="#000">01:00</text>
<rect x="116" y="367" width="1" height="1" fill="#000"/>
<text class="rot" transform="translate(119.5,398) rotate(-90)" fill="#000">01:30</text>
<rect x="131" y="367" width="1" height="1" fill="#000"/>
<text class="rot" transform="translate(134.5,398) rotate(-90)" fill="#000">02:00</text>
<rect x="147" y="367" width="1" height="1" fill="#000"/>
<text class="rot" transform="translate(150.5,398) rotate(-90)" fill="#000">02:30</text>
<rect x="162" y="367" width="1" height="1" fill="#000"/>
<text class="rot" transform="translate(165.5,398) rotate(-90)" fill="#000">03:00</text>
<rect x="177" y="367" width="1" height="1" fill="#000"/>
<text class="rot" transform="translate(180.5,398) rotate(-90)" fill="#000">03:30</text>
<rect x="193" y="367" width="1" height="1" fill="#000"/>
<text class="rot" transform="translate(196.5,398) rotate(-90)" fill="#000">04:00</text>
<rect x="208" y="367" width="1" height="1" fill="#000"/>
<text class="rot" transform="translate(211.5,398) rotate(-90)" fill="#000">04:30</text>
<rect x="224" y="367" width="1" height="1" fill="#000"/>
<text class="rot" transform="translate(227.5,398) rotate(-90)" fill="#000">05:00</text>
<rect x="239" y="367" width="1" height="1" fill="#000"/>
<text class="rot" transform="translate(242.5,398) rotate(-90)" fill="#000">05:30</text>
<rect x="255" y="367" width="1" height="1" fill="#000"/>
<text class="rot" transform="translate(258.5,398) rotate(-90)" fill="#000">06:00</text>
<rect x="270" y="367" width="1" height="1" fill="#000"/>
<text class="rot" transform="translate(273.5,398) rotate(-90)" fill="#000">06:30</text>
<rect x="285" y="367" width="1" height="1" fill="#000"/>
<text class="rot" transform="translate(288.5,398) rotate(-90)" fill="#000">07:00</text>
<rect x="301" y="367" width="1" height="1" fill="#000"/>
<text class="rot" transform="translate(304.5,398) rotate(-90)" fill="#000">07:30</text>
<rect x="316" y="367" width="1" height="1" fill="#000"/>
<text class="rot" transform="translate(319.5,398) rotate(-90)" fill="#000">08:00</text>
<rect x="332" y="367" width="1" height="1" fill="#000"/>
<text class="rot" transform="translate(335.5,398) rotate(-90)" fill="#000">08:30</text>
<rect x="347" y="367" width="1" height="1" fill="#000"/>
<text class="rot" transform="translate(350.5,398) rotate(-90)" fill="#000">09:00</text>
<rect x="362" y="367" width="1" height="1" fill="#000"/>
<text class="rot" transform="translate(365.5,398) rotate(-90)" fill="#000">09:30</text>
<rect x="378" y="367" width="1" height="1" fill="#000"/>
<text class="rot" transform="translate(381.5,398) rotate(-90)" fill="#000">10:00</text>
<rect x="393" y="367" width="1" height="1" fill="#000"/>
<text class="rot" transform="translate(396.5,398) rotate(-90)" fill="#000">10:30</text>
<rect x="409" y="367" width="1" height="1" fill="#000"/>
<text class="rot" transform="translate(412.5,398) rotate(-90)" fill="#000">11:00</text>
<rect x="424" y="367" width="1" height="1" fill="#000"/>
<text class="rot" transform="translate(427.5,398) rotate(-90)" fill="#000">11:30</text>
<rect x="440" y="367" width="1" height="1" fill="#000"/>
<text class="rot" transform="translate(443.5,398) rotate(-90)" fill="#000">12:00</text>
<rect x="455" y="367" width="1" height="1" fill="#000"/>
<text class="rot" transform="translate(458.5,398) rotate(-90)" fill="#000">12:30</text>
<rect x="470" y="367" width="1" height="1" fill="#000"/>
<text class="rot" transform="translate(473.5,398) rotate(-90)" fill="#000">13:00</text>
<rect x="486" y="367" width="1" height="1" fill="#000"/>
<text class="rot" transform="translate(489.5,398) rotate(-90)" fill="#000">13:30</text>
<rect x="501" y="367" width="1" height="1" fill="#000"/>
<text class="rot" transform="translate(504.5,398) rotate(-90)" fill="#000">14:00</text>
<rect x="517" y="367" width="1" height="1" fill="#000"/>
<text class="rot" transform="translate(520.5,398) rotate(-90)" fill="#000">14:30</text>
<rect x="532" y="367" width="1" height="1" fill="#000"/>
<text class="rot" transform="translate(535.5,398) rotate(-90)" fill="#000">15:00</text>
<rect x="548" y="367" width="1" height="1" fill="#000"/>
<text class="rot" transform="translate(551.5,398) rotate(-90)" fill="#000">15:30</text>
<rect x="563" y="367" width="1" height="1" fill="#000"/>
<text class="rot" transform="translate(566.5,398) rotate(-90)" fill="#000">16:00</text>
<rect x="578" y="367" width="1" height="1" fill="#000"/>
<text class="rot" transform="translate(581.5,398) rotate(-90)" fill="#000">16:30</text>
<rect x="594" y="367" width="1" height="1" fill="#000"/>
<text class="rot" transform="translate(597.5,398) rotate(-90)" fill="#000">17:00</text>
<rect x="609" y="367" width="1" height="1" fill="#000"/>
<text class="rot" transform="translate(612.5,398) rotate(-90)" fill="#000">17:30</text>
<rect x="625" y="367" width="1" height="1" fill="#000"/>
<text class="rot" transform="translate(628.5,398) rotate(-90)" fill="#000">18:00</text>
<rect x="640" y="367" width="1" height="1" fill="#000"/>
<text class="rot" transform="translate(643.5,398) rotate(-90)" fill="#000">18:30</text>
<rect x="655" y="367" width="1" height="1" fill="#000"/>
<text class="rot" transform="translate(658.5,398) rotate(-90)" fill="#000">19:00</text>
<rect x="671" y="367" width="1" height="1" fill="#000"/>
<text class="rot" transform="translate(674.5,398) rotate(-90)" fill="#000">19:30</text>
<rect x="686" y="367" width="1" height="1" fill="#000"/>
<text class="rot" transform="translate(689.5,398) rotate(-90)" fill="#000">20:00</text>
<rect x="702" y="367" width="1" height="1" fill="#000"/>
<text class="rot" transform="translate(705.5,398) rotate(-90)" fill="#000">20:30</text>
<rect x="717" y="367" width="1" height="1" fill="#000"/>
<text class="rot" transform="translate(720.5,398) rotate(-90)" fill="#000">21:00</text>
<rect x="733" y="367" width="1" height="1" fill="#000"/>
<text class="rot" transform="translate(736.5,398) rotate(-90)" fill="#000">21:30</text>
<rect x="748" y="367" width="1" height="1" fill="#000"/>
<text class="rot" transform="translate(751.5,398) rotate(-90)" fill="#000">22:00</text>
<rect x="763" y="367" width="1" height="1" fill="#000"/>
<text class="rot" transform="translate(766.5,398) rotate(-90)" fill="#000">22:35</text>
<rect x="779" y="367" width="1" height="1" fill="#000"/>
<text class="rot" transform="translate(782.5,398) rotate(-90)" fill="#000">23:05</text>
<rect x="794" y="367" width="1" height="1" fill="#000"/>
<text class="rot" transform="translate(797.5,398) rotate(-90)" fill="#000">23:35</text>
<text x="814.5" y="378" fill="#000">čas</text>
<rect x="10" y="9" width="11" height="2" fill="#ff0000"/>
<text class="lg" x="24.25" y="12.5" fill="#000">Teplota</text>
<rect x="70" y="9" width="11" height="2" fill="#ff00ff"/>
<text class="lg" x="84.25" y="12.5" fill="#000">Přízemní teplota</text>
<rect x="175" y="9" width="11" height="2" fill="#8800cc"/>
<text class="lg" x="189.25" y="12.5" fill="#000">Vlhkost</text>
<rect x="235" y="9" width="11" height="2" fill="#228b22"/>
<text class="lg" x="249.25" y="12.5" fill="#000">Tlak</text>
<rect x="280" y="9" width="11" height="2" fill="#00b4ff"/>
<text class="lg" x="294.25" y="12.5" fill="#000">Srážky</text>
<rect x="335" y="9" width="11" height="2" fill="#000"/>
<text class="lg" x="349.25" y="12.5" fill="#000">Rychlost větru</text>
<rect x="430" y="9" width="11" height="2" fill="#0000cc"/>
<text class="lg" x="444.25" y="12.5" fill="#000">Náraz větru</text>
<rect x="510" y="9" width="11" height="2" fill="#777777"/>
<text class="lg" x="524.25" y="12.5" fill="#000">Směr větru</text>
<rect x="585" y="9" width="11" height="2" fill="#ffee00"/>
<text class="lg" x="599.25" y="12.5" fill="#ffee00">UV index</text>
<rect x="650" y="9" width="11" height="2" fill="#ff8000"/>
<text class="lg" x="664.25" y="12.5" fill="#ff8000">Solar</text>
<text x="80.5" y="27.5" fill="#000">max</text><text x="105.5" y="27.5" fill="#f00">4.1°C</text><text x="140.5" y="27.5" fill="#f00">91%</text><text x="165.5" y="27.5" fill="#f00">1013.6hPa</text><text x="225.5" y="27.5" fill="#00b4ff">0.2mm</text>
<text x="80.5" y="37.5" fill="#000">min</text><text x="105.5" y="37.5" fill="#0000cc">0.1°C</text><text x="140.5" y="37.5" fill="#0000cc">66%</text><text x="165.5" y="37.5" fill="#0000cc">1011.6hPa</text>
<text x="80.5" y="47.5" fill="#000">avg</text><text x="105.5" y="47.5" fill="#000">2.3°C</text>
<text class="b" x="499" y="27.5" fill="#000">WS:5.4m/s</text><text class="b" x="569" y="27.5" fill="#000">WG:10.3m/s</text>
<text class="b" x="499" y="37.5" fill="#000">Východ:07:37</text><text class="b" x="569" y="37.5" fill="#000">Západ:17:37</text>
<rect x="413" y="42" width="73" height="10" fill="#fff"/>
<text class="b" x="414" y="51.5" fill="#000" style="font-size:12px;letter-spacing:0px">29.10.2012</text>
<rect x="0.5" y="0.5" width="899" height="399" fill="none" stroke="#000" stroke-width="1" shape-rendering="crispEdges"/>
</svg></body></html>
